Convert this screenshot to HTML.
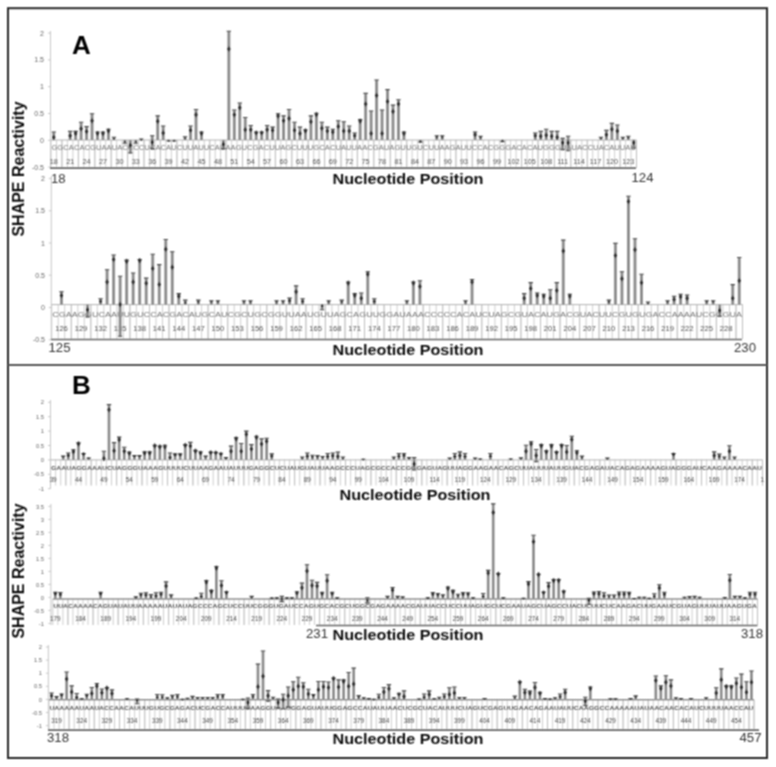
<!DOCTYPE html>
<html><head><meta charset="utf-8"><title>SHAPE Reactivity</title>
<style>
html,body{margin:0;padding:0;background:#fff;}
body{width:776px;height:767px;overflow:hidden;}
svg{display:block;font-family:"Liberation Sans",Arial,sans-serif;}
</style></head><body>
<svg width="776" height="767" viewBox="0 0 776 767">
<defs><filter id="soft" filterUnits="userSpaceOnUse" x="0" y="0" width="776" height="767"><feConvolveMatrix order="3" kernelMatrix="1 2 1 2 4 2 1 2 1" edgeMode="duplicate"/></filter></defs>
<rect x="0" y="0" width="776" height="767" fill="#fff"/>
<g filter="url(#soft)">
<g id="A1">
<path d="M50.5,31V168.0M48.0,33.1H50.5M48.0,59.9H50.5M48.0,86.7H50.5M48.0,113.5H50.5M48.0,140.3H50.5M48.0,167.1H50.5" stroke="#c2c2c2" stroke-width="0.9" fill="none"/>
<g font-size="7.0" text-anchor="end" fill="#666">
<text x="44" y="35.6">2</text>
<text x="44" y="62.4">1.5</text>
<text x="44" y="89.2">1</text>
<text x="44" y="116.0">0.5</text>
<text x="44" y="142.8">0</text>
<text x="44" y="169.6">-0.5</text>
</g>
<path d="M51.0,140V168M56.5,140V168M61.9,140V168M67.4,140V168M72.9,140V168M78.4,140V168M83.8,140V168M89.3,140V168M94.8,140V168M100.2,140V168M105.7,140V168M111.2,140V168M116.7,140V168M122.1,140V168M127.6,140V168M133.1,140V168M138.6,140V168M144.0,140V168M149.5,140V168M155.0,140V168M160.4,140V168M165.9,140V168M171.4,140V168M176.9,140V168M182.3,140V168M187.8,140V168M193.3,140V168M198.7,140V168M204.2,140V168M209.7,140V168M215.2,140V168M220.6,140V168M226.1,140V168M231.6,140V168M237.0,140V168M242.5,140V168M248.0,140V168M253.5,140V168M258.9,140V168M264.4,140V168M269.9,140V168M275.4,140V168M280.8,140V168M286.3,140V168M291.8,140V168M297.2,140V168M302.7,140V168M308.2,140V168M313.7,140V168M319.1,140V168M324.6,140V168M330.1,140V168M335.5,140V168M341.0,140V168M346.5,140V168M352.0,140V168M357.4,140V168M362.9,140V168M368.4,140V168M373.8,140V168M379.3,140V168M384.8,140V168M390.3,140V168M395.7,140V168M401.2,140V168M406.7,140V168M412.1,140V168M417.6,140V168M423.1,140V168M428.6,140V168M434.0,140V168M439.5,140V168M445.0,140V168M450.5,140V168M455.9,140V168M461.4,140V168M466.9,140V168M472.3,140V168M477.8,140V168M483.3,140V168M488.8,140V168M494.2,140V168M499.7,140V168M505.2,140V168M510.6,140V168M516.1,140V168M521.6,140V168M527.1,140V168M532.5,140V168M538.0,140V168M543.5,140V168M548.9,140V168M554.4,140V168M559.9,140V168M565.4,140V168M570.8,140V168M576.3,140V168M581.8,140V168M587.3,140V168M592.7,140V168M598.2,140V168M603.7,140V168M609.1,140V168M614.6,140V168M620.1,140V168M625.6,140V168M631.0,140V168M636.5,140V168" stroke="#c4c4c4" stroke-width="0.8" fill="none"/>
<path d="M61.9,140V168M78.4,140V168M94.8,140V168M111.2,140V168M127.6,140V168M144.0,140V168M160.4,140V168M176.9,140V168M193.3,140V168M209.7,140V168M226.1,140V168M242.5,140V168M258.9,140V168M275.4,140V168M291.8,140V168M308.2,140V168M324.6,140V168M341.0,140V168M357.4,140V168M373.8,140V168M390.3,140V168M406.7,140V168M423.1,140V168M439.5,140V168M455.9,140V168M472.3,140V168M488.8,140V168M505.2,140V168M521.6,140V168M538.0,140V168M554.4,140V168M570.8,140V168M587.3,140V168M603.7,140V168M620.1,140V168M636.5,140V168M636.5,140V168" stroke="#bdbdbd" stroke-width="0.8" fill="none"/>
<path d="M51.0,140.0H636.5" stroke="#b4b4b4" stroke-width="1" fill="none"/>
<text x="51.4" y="150.4" font-size="7.6" textLength="584.6" lengthAdjust="spacingAndGlyphs" fill="#707070">GGCACACGUAAUACCCCUCACAUCUUAUUCAUAAGUCGACUUAGCUUUGCACUAUUAACGAUAGUUGUCUUAAGAUUCCACGGGACACAUGGGUAUACCUACAUUAU</text>
<g font-size="7.2" text-anchor="middle" fill="#4a4a4a">
<text x="53.7" y="163.6">18</text>
<text x="70.2" y="163.6">21</text>
<text x="86.6" y="163.6">24</text>
<text x="103.0" y="163.6">27</text>
<text x="119.4" y="163.6">30</text>
<text x="135.8" y="163.6">33</text>
<text x="152.2" y="163.6">36</text>
<text x="168.6" y="163.6">39</text>
<text x="185.1" y="163.6">42</text>
<text x="201.5" y="163.6">45</text>
<text x="217.9" y="163.6">48</text>
<text x="234.3" y="163.6">51</text>
<text x="250.7" y="163.6">54</text>
<text x="267.1" y="163.6">57</text>
<text x="283.6" y="163.6">60</text>
<text x="300.0" y="163.6">63</text>
<text x="316.4" y="163.6">66</text>
<text x="332.8" y="163.6">69</text>
<text x="349.2" y="163.6">72</text>
<text x="365.6" y="163.6">75</text>
<text x="382.1" y="163.6">78</text>
<text x="398.5" y="163.6">81</text>
<text x="414.9" y="163.6">84</text>
<text x="431.3" y="163.6">87</text>
<text x="447.7" y="163.6">90</text>
<text x="464.1" y="163.6">93</text>
<text x="480.5" y="163.6">96</text>
<text x="497.0" y="163.6">99</text>
<text x="513.4" y="163.6">102</text>
<text x="529.8" y="163.6">105</text>
<text x="546.2" y="163.6">108</text>
<text x="562.6" y="163.6">111</text>
<text x="579.0" y="163.6">114</text>
<text x="595.5" y="163.6">117</text>
<text x="611.9" y="163.6">120</text>
<text x="628.3" y="163.6">123</text>
</g>
<path d="M50,168.2H636" stroke="#666" stroke-width="1.7" fill="none"/>
<g fill="#9c9c9c"><rect x="52.24" y="131.96" width="3.00" height="8.04"/><rect x="68.65" y="131.42" width="3.00" height="8.58"/><rect x="74.12" y="131.42" width="3.00" height="8.58"/><rect x="79.60" y="122.31" width="3.00" height="17.69"/><rect x="85.07" y="126.60" width="3.00" height="13.40"/><rect x="90.54" y="113.74" width="3.00" height="26.26"/><rect x="96.01" y="131.96" width="3.00" height="8.04"/><rect x="101.48" y="131.96" width="3.00" height="8.04"/><rect x="106.96" y="129.28" width="3.00" height="10.72"/><rect x="112.43" y="137.32" width="3.00" height="2.68"/><rect x="123.37" y="140.00" width="3.00" height="3.22"/><rect x="128.84" y="140.00" width="3.00" height="12.86"/><rect x="134.32" y="140.00" width="3.00" height="3.22"/><rect x="139.79" y="138.93" width="3.00" height="1.07"/><rect x="150.73" y="135.71" width="3.00" height="12.86"/><rect x="156.20" y="115.88" width="3.00" height="24.12"/><rect x="161.68" y="126.06" width="3.00" height="13.94"/><rect x="167.15" y="140.00" width="3.00" height="1.07"/><rect x="172.62" y="140.00" width="3.00" height="1.07"/><rect x="183.56" y="136.78" width="3.00" height="3.22"/><rect x="189.04" y="126.06" width="3.00" height="13.94"/><rect x="194.51" y="109.45" width="3.00" height="30.55"/><rect x="199.98" y="131.96" width="3.00" height="8.04"/><rect x="221.87" y="140.00" width="3.00" height="8.58"/><rect x="227.34" y="31.19" width="3.00" height="108.81"/><rect x="232.81" y="109.98" width="3.00" height="30.02"/><rect x="238.28" y="103.02" width="3.00" height="36.98"/><rect x="243.75" y="117.49" width="3.00" height="22.51"/><rect x="249.23" y="125.53" width="3.00" height="14.47"/><rect x="254.70" y="131.96" width="3.00" height="8.04"/><rect x="260.17" y="131.96" width="3.00" height="8.04"/><rect x="265.64" y="125.53" width="3.00" height="14.47"/><rect x="271.11" y="127.14" width="3.00" height="12.86"/><rect x="276.59" y="113.74" width="3.00" height="26.26"/><rect x="282.06" y="115.88" width="3.00" height="24.12"/><rect x="287.53" y="109.45" width="3.00" height="30.55"/><rect x="293.00" y="122.31" width="3.00" height="17.69"/><rect x="298.47" y="127.14" width="3.00" height="12.86"/><rect x="303.95" y="129.82" width="3.00" height="10.18"/><rect x="309.42" y="115.88" width="3.00" height="24.12"/><rect x="314.89" y="113.20" width="3.00" height="26.80"/><rect x="320.36" y="122.31" width="3.00" height="17.69"/><rect x="325.83" y="127.14" width="3.00" height="12.86"/><rect x="331.31" y="129.28" width="3.00" height="10.72"/><rect x="336.78" y="120.70" width="3.00" height="19.30"/><rect x="342.25" y="121.78" width="3.00" height="18.22"/><rect x="347.72" y="126.06" width="3.00" height="13.94"/><rect x="353.19" y="133.03" width="3.00" height="6.97"/><rect x="358.67" y="119.63" width="3.00" height="20.37"/><rect x="364.14" y="93.37" width="3.00" height="46.63"/><rect x="369.61" y="111.06" width="3.00" height="28.94"/><rect x="375.08" y="79.97" width="3.00" height="60.03"/><rect x="380.55" y="109.98" width="3.00" height="30.02"/><rect x="386.03" y="89.62" width="3.00" height="50.38"/><rect x="391.50" y="105.16" width="3.00" height="34.84"/><rect x="396.97" y="99.80" width="3.00" height="40.20"/><rect x="402.44" y="131.96" width="3.00" height="8.04"/><rect x="418.86" y="140.00" width="3.00" height="2.14"/><rect x="435.27" y="135.71" width="3.00" height="4.29"/><rect x="440.75" y="135.71" width="3.00" height="4.29"/><rect x="473.58" y="131.96" width="3.00" height="8.04"/><rect x="479.05" y="136.25" width="3.00" height="3.75"/><rect x="500.94" y="140.00" width="3.00" height="1.61"/><rect x="533.77" y="133.03" width="3.00" height="6.97"/><rect x="539.24" y="131.42" width="3.00" height="8.58"/><rect x="544.71" y="129.28" width="3.00" height="10.72"/><rect x="550.18" y="131.42" width="3.00" height="8.58"/><rect x="555.66" y="131.42" width="3.00" height="8.58"/><rect x="561.13" y="138.39" width="3.00" height="11.26"/><rect x="566.60" y="136.25" width="3.00" height="14.47"/><rect x="599.43" y="137.32" width="3.00" height="2.68"/><rect x="604.90" y="130.35" width="3.00" height="9.65"/><rect x="610.38" y="123.38" width="3.00" height="16.62"/><rect x="615.85" y="124.99" width="3.00" height="15.01"/><rect x="621.32" y="137.32" width="3.00" height="2.68"/><rect x="626.79" y="136.25" width="3.00" height="3.75"/><rect x="632.26" y="140.00" width="3.00" height="8.04"/></g>
<path d="M53.74,131.96V140.00M70.15,131.42V140.00M75.62,131.42V140.00M81.10,122.31V140.00M86.57,126.60V140.00M92.04,113.74V140.00M97.51,131.96V140.00M102.98,131.96V140.00M108.46,129.28V140.00M113.93,137.32V140.00M124.87,140.00V143.22M130.34,140.00V152.86M135.82,140.00V143.22M141.29,138.93V140.00M152.23,135.71V148.58M157.70,115.88V140.00M163.18,126.06V140.00M168.65,140.00V141.07M174.12,140.00V141.07M185.06,136.78V140.00M190.54,126.06V140.00M196.01,109.45V140.00M201.48,131.96V140.00M223.37,140.00V148.58M228.84,31.19V140.00M234.31,109.98V140.00M239.78,103.02V140.00M245.25,117.49V140.00M250.73,125.53V140.00M256.20,131.96V140.00M261.67,131.96V140.00M267.14,125.53V140.00M272.61,127.14V140.00M278.09,113.74V140.00M283.56,115.88V140.00M289.03,109.45V140.00M294.50,122.31V140.00M299.97,127.14V140.00M305.45,129.82V140.00M310.92,115.88V140.00M316.39,113.20V140.00M321.86,122.31V140.00M327.33,127.14V140.00M332.81,129.28V140.00M338.28,120.70V140.00M343.75,121.78V140.00M349.22,126.06V140.00M354.69,133.03V140.00M360.17,119.63V140.00M365.64,93.37V140.00M371.11,111.06V140.00M376.58,79.97V140.00M382.05,109.98V140.00M387.53,89.62V140.00M393.00,105.16V140.00M398.47,99.80V140.00M403.94,131.96V140.00M420.36,140.00V142.14M436.77,135.71V140.00M442.25,135.71V140.00M475.08,131.96V140.00M480.55,136.25V140.00M502.44,140.00V141.61M535.27,133.03V140.00M540.74,131.42V140.00M546.21,129.28V140.00M551.68,131.42V140.00M557.16,131.42V140.00M562.63,138.39V149.65M568.10,136.25V150.72M600.93,137.32V140.00M606.40,130.35V140.00M611.88,123.38V140.00M617.35,124.99V140.00M622.82,137.32V140.00M628.29,136.25V140.00M633.76,140.00V148.04" stroke="#707070" stroke-width="0.7" fill="none"/>
<path d="M51.54,131.96H55.94M67.95,131.42H72.35M73.42,131.42H77.82M78.90,122.31H83.30M84.37,126.60H88.77M89.84,113.74H94.24M95.31,131.96H99.71M100.78,131.96H105.18M106.26,129.28H110.66M111.73,137.32H116.13M122.67,143.22H127.07M128.14,152.86H132.54M133.62,143.22H138.02M139.09,138.93H143.49M150.03,135.71H154.43M150.03,148.58H154.43M155.50,115.88H159.90M160.98,126.06H165.38M166.45,141.07H170.85M171.92,141.07H176.32M182.86,136.78H187.26M188.34,126.06H192.74M193.81,109.45H198.21M199.28,131.96H203.68M221.17,148.58H225.57M226.64,31.19H231.04M232.11,109.98H236.51M237.58,103.02H241.98M243.05,117.49H247.45M248.53,125.53H252.93M254.00,131.96H258.40M259.47,131.96H263.87M264.94,125.53H269.34M270.41,127.14H274.81M275.89,113.74H280.29M281.36,115.88H285.76M286.83,109.45H291.23M292.30,122.31H296.70M297.77,127.14H302.17M303.25,129.82H307.65M308.72,115.88H313.12M314.19,113.20H318.59M319.66,122.31H324.06M325.13,127.14H329.53M330.61,129.28H335.01M336.08,120.70H340.48M341.55,121.78H345.95M347.02,126.06H351.42M352.49,133.03H356.89M357.97,119.63H362.37M363.44,93.37H367.84M368.91,111.06H373.31M374.38,79.97H378.78M379.85,109.98H384.25M385.33,89.62H389.73M390.80,105.16H395.20M396.27,99.80H400.67M401.74,131.96H406.14M418.16,142.14H422.56M434.57,135.71H438.97M440.05,135.71H444.45M472.88,131.96H477.28M478.35,136.25H482.75M500.24,141.61H504.64M533.07,133.03H537.47M538.54,131.42H542.94M544.01,129.28H548.41M549.48,131.42H553.88M554.96,131.42H559.36M560.43,138.39H564.83M560.43,149.65H564.83M565.90,136.25H570.30M565.90,150.72H570.30M598.73,137.32H603.13M604.20,130.35H608.60M609.68,123.38H614.08M615.15,124.99H619.55M620.62,137.32H625.02M626.09,136.25H630.49M631.56,148.04H635.96" stroke="#444" stroke-width="1.1" fill="none"/>
<path d="M51.94,137.32L53.74,134.51L55.54,137.32L53.74,140.13ZM68.35,135.71L70.15,132.71L71.95,135.71L70.15,138.71ZM73.82,133.57L75.62,130.57L77.42,133.57L75.62,136.57ZM79.30,128.74L81.10,125.74L82.90,128.74L81.10,131.74ZM84.77,131.42L86.57,128.42L88.37,131.42L86.57,134.42ZM90.24,120.70L92.04,117.70L93.84,120.70L92.04,123.70ZM95.71,133.57L97.51,130.75L99.31,133.57L97.51,136.38ZM101.18,133.57L102.98,130.75L104.78,133.57L102.98,136.38ZM106.66,130.89L108.46,127.89L110.26,130.89L108.46,133.89ZM112.73,138.93L113.93,137.83L115.13,138.93L113.93,140.03ZM123.67,141.61L124.87,140.48L126.07,141.61L124.87,142.73ZM128.54,145.36L130.34,142.36L132.14,145.36L130.34,148.36ZM134.62,141.61L135.82,140.48L137.02,141.61L135.82,142.73ZM140.09,140.00L141.29,138.90L142.49,140.00L141.29,141.10ZM150.43,142.14L152.23,139.14L154.03,142.14L152.23,145.14ZM155.90,121.24L157.70,118.24L159.50,121.24L157.70,124.24ZM161.38,133.03L163.18,130.03L164.98,133.03L163.18,136.03ZM167.45,140.54L168.65,139.44L169.85,140.54L168.65,141.64ZM172.92,140.54L174.12,139.44L175.32,140.54L174.12,141.64ZM183.86,138.39L185.06,137.27L186.26,138.39L185.06,139.52ZM188.74,130.35L190.54,127.35L192.34,130.35L190.54,133.35ZM194.21,114.81L196.01,111.81L197.81,114.81L196.01,117.81ZM199.68,133.57L201.48,130.75L203.28,133.57L201.48,136.38ZM221.57,144.29L223.37,141.29L225.17,144.29L223.37,147.29ZM227.04,48.88L228.84,45.88L230.64,48.88L228.84,51.88ZM232.51,114.81L234.31,111.81L236.11,114.81L234.31,117.81ZM237.98,107.84L239.78,104.84L241.58,107.84L239.78,110.84ZM243.45,129.82L245.25,126.82L247.05,129.82L245.25,132.82ZM248.93,129.82L250.73,126.82L252.53,129.82L250.73,132.82ZM254.40,133.03L256.20,130.22L258.00,133.03L256.20,135.85ZM259.87,133.03L261.67,130.22L263.47,133.03L261.67,135.85ZM265.34,129.82L267.14,126.82L268.94,129.82L267.14,132.82ZM270.81,130.35L272.61,127.35L274.41,130.35L272.61,133.35ZM276.29,115.88L278.09,112.88L279.89,115.88L278.09,118.88ZM281.76,120.70L283.56,117.70L285.36,120.70L283.56,123.70ZM287.23,118.56L289.03,115.56L290.83,118.56L289.03,121.56ZM292.70,130.35L294.50,127.35L296.30,130.35L294.50,133.35ZM298.17,133.57L299.97,130.57L301.77,133.57L299.97,136.57ZM303.65,130.89L305.45,127.89L307.25,130.89L305.45,133.89ZM309.12,121.78L310.92,118.78L312.72,121.78L310.92,124.78ZM314.59,114.81L316.39,111.81L318.19,114.81L316.39,117.81ZM320.06,128.21L321.86,125.21L323.66,128.21L321.86,131.21ZM325.53,130.89L327.33,127.89L329.13,130.89L327.33,133.89ZM331.01,131.96L332.81,128.96L334.61,131.96L332.81,134.96ZM336.48,126.60L338.28,123.60L340.08,126.60L338.28,129.60ZM341.95,130.89L343.75,127.89L345.55,130.89L343.75,133.89ZM347.42,130.89L349.22,127.89L351.02,130.89L349.22,133.89ZM352.89,135.71L354.69,133.27L356.49,135.71L354.69,138.15ZM358.37,121.24L360.17,118.24L361.97,121.24L360.17,124.24ZM363.84,104.09L365.64,101.09L367.44,104.09L365.64,107.09ZM369.31,133.57L371.11,130.57L372.91,133.57L371.11,136.57ZM374.78,95.51L376.58,92.51L378.38,95.51L376.58,98.51ZM380.25,133.57L382.05,130.57L383.85,133.57L382.05,136.57ZM385.73,101.41L387.53,98.41L389.33,101.41L387.53,104.41ZM391.20,111.59L393.00,108.59L394.80,111.59L393.00,114.59ZM396.67,104.09L398.47,101.09L400.27,104.09L398.47,107.09ZM402.14,133.57L403.94,130.75L405.74,133.57L403.94,136.38ZM419.16,141.07L420.36,139.97L421.56,141.07L420.36,142.17ZM435.49,137.32L436.77,135.82L438.06,137.32L436.77,138.82ZM440.96,137.32L442.25,135.82L443.53,137.32L442.25,138.82ZM473.28,134.64L475.08,131.83L476.88,134.64L475.08,137.45ZM479.35,137.32L480.55,136.01L481.75,137.32L480.55,138.63ZM501.24,140.54L502.44,139.44L503.64,140.54L502.44,141.64ZM533.47,135.71L535.27,133.27L537.07,135.71L535.27,138.15ZM538.94,136.25L540.74,133.25L542.54,136.25L540.74,139.25ZM544.41,135.18L546.21,132.18L548.01,135.18L546.21,138.18ZM549.88,136.25L551.68,133.25L553.48,136.25L551.68,139.25ZM555.36,137.32L557.16,134.32L558.96,137.32L557.16,140.32ZM560.83,142.68L562.63,139.68L564.43,142.68L562.63,145.68ZM566.30,142.68L568.10,139.68L569.90,142.68L568.10,145.68ZM599.73,138.39L600.93,137.29L602.13,138.39L600.93,139.49ZM604.60,134.64L606.40,131.64L608.20,134.64L606.40,137.64ZM610.08,129.28L611.88,126.28L613.68,129.28L611.88,132.28ZM615.55,130.89L617.35,127.89L619.15,130.89L617.35,133.89ZM621.62,138.39L622.82,137.29L624.02,138.39L622.82,139.49ZM627.09,137.86L628.29,136.54L629.49,137.86L628.29,139.17ZM631.96,142.68L633.76,139.87L635.56,142.68L633.76,145.49Z" fill="#2e2e2e"/>
</g>
<g id="A2">
<path d="M51.3,176V339.8M48.8,178.5H51.3M48.8,210.8H51.3M48.8,243.0H51.3M48.8,275.2H51.3M48.8,307.5H51.3M48.8,339.8H51.3" stroke="#c2c2c2" stroke-width="0.9" fill="none"/>
<g font-size="7.0" text-anchor="end" fill="#666">
<text x="45" y="181.0">2</text>
<text x="45" y="213.3">1.5</text>
<text x="45" y="245.5">1</text>
<text x="45" y="277.8">0.5</text>
<text x="45" y="310.0">0</text>
<text x="45" y="342.3">-0.5</text>
</g>
<path d="M51.7,304.6V339M58.2,304.6V339M64.7,304.6V339M71.3,304.6V339M77.8,304.6V339M84.3,304.6V339M90.8,304.6V339M97.3,304.6V339M103.8,304.6V339M110.4,304.6V339M116.9,304.6V339M123.4,304.6V339M129.9,304.6V339M136.4,304.6V339M142.9,304.6V339M149.5,304.6V339M156.0,304.6V339M162.5,304.6V339M169.0,304.6V339M175.5,304.6V339M182.0,304.6V339M188.6,304.6V339M195.1,304.6V339M201.6,304.6V339M208.1,304.6V339M214.6,304.6V339M221.1,304.6V339M227.7,304.6V339M234.2,304.6V339M240.7,304.6V339M247.2,304.6V339M253.7,304.6V339M260.2,304.6V339M266.8,304.6V339M273.3,304.6V339M279.8,304.6V339M286.3,304.6V339M292.8,304.6V339M299.3,304.6V339M305.9,304.6V339M312.4,304.6V339M318.9,304.6V339M325.4,304.6V339M331.9,304.6V339M338.4,304.6V339M345.0,304.6V339M351.5,304.6V339M358.0,304.6V339M364.5,304.6V339M371.0,304.6V339M377.5,304.6V339M384.1,304.6V339M390.6,304.6V339M397.1,304.6V339M403.6,304.6V339M410.1,304.6V339M416.7,304.6V339M423.2,304.6V339M429.7,304.6V339M436.2,304.6V339M442.7,304.6V339M449.2,304.6V339M455.8,304.6V339M462.3,304.6V339M468.8,304.6V339M475.3,304.6V339M481.8,304.6V339M488.3,304.6V339M494.9,304.6V339M501.4,304.6V339M507.9,304.6V339M514.4,304.6V339M520.9,304.6V339M527.4,304.6V339M534.0,304.6V339M540.5,304.6V339M547.0,304.6V339M553.5,304.6V339M560.0,304.6V339M566.5,304.6V339M573.1,304.6V339M579.6,304.6V339M586.1,304.6V339M592.6,304.6V339M599.1,304.6V339M605.6,304.6V339M612.2,304.6V339M618.7,304.6V339M625.2,304.6V339M631.7,304.6V339M638.2,304.6V339M644.7,304.6V339M651.3,304.6V339M657.8,304.6V339M664.3,304.6V339M670.8,304.6V339M677.3,304.6V339M683.8,304.6V339M690.4,304.6V339M696.9,304.6V339M703.4,304.6V339M709.9,304.6V339M716.4,304.6V339M722.9,304.6V339M729.5,304.6V339M736.0,304.6V339M742.5,304.6V339" stroke="#c4c4c4" stroke-width="0.8" fill="none"/>
<path d="M71.3,304.6V339M90.8,304.6V339M110.4,304.6V339M129.9,304.6V339M149.5,304.6V339M169.0,304.6V339M188.6,304.6V339M208.1,304.6V339M227.7,304.6V339M247.2,304.6V339M266.8,304.6V339M286.3,304.6V339M305.9,304.6V339M325.4,304.6V339M345.0,304.6V339M364.5,304.6V339M384.1,304.6V339M403.6,304.6V339M423.2,304.6V339M442.7,304.6V339M462.3,304.6V339M481.8,304.6V339M501.4,304.6V339M520.9,304.6V339M540.5,304.6V339M560.0,304.6V339M579.6,304.6V339M599.1,304.6V339M618.7,304.6V339M638.2,304.6V339M657.8,304.6V339M677.3,304.6V339M696.9,304.6V339M716.4,304.6V339M736.0,304.6V339M742.5,304.6V339" stroke="#bdbdbd" stroke-width="0.8" fill="none"/>
<path d="M51.7,304.6H742.5" stroke="#b4b4b4" stroke-width="1" fill="none"/>
<text x="52.2" y="316.5" font-size="8.0" textLength="689.8" lengthAdjust="spacingAndGlyphs" fill="#707070">CGAAGGUCAAUUGUCCACGACAUGCAUCGCUGCGGUUAAUGUUAGCAGUUGGAUAAACCCCCACAUCUAGCGUACAUGACGUACUUCGUGUGACCAAAAUCGCGUA</text>
<g font-size="7.6" text-anchor="middle" fill="#4a4a4a">
<text x="61.5" y="331.3">126</text>
<text x="81.0" y="331.3">129</text>
<text x="100.6" y="331.3">132</text>
<text x="120.1" y="331.3">135</text>
<text x="139.7" y="331.3">138</text>
<text x="159.2" y="331.3">141</text>
<text x="178.8" y="331.3">144</text>
<text x="198.3" y="331.3">147</text>
<text x="217.9" y="331.3">150</text>
<text x="237.4" y="331.3">153</text>
<text x="257.0" y="331.3">156</text>
<text x="276.5" y="331.3">159</text>
<text x="296.1" y="331.3">162</text>
<text x="315.6" y="331.3">165</text>
<text x="335.2" y="331.3">168</text>
<text x="354.7" y="331.3">171</text>
<text x="374.3" y="331.3">174</text>
<text x="393.8" y="331.3">177</text>
<text x="413.4" y="331.3">180</text>
<text x="432.9" y="331.3">183</text>
<text x="452.5" y="331.3">186</text>
<text x="472.0" y="331.3">189</text>
<text x="491.6" y="331.3">192</text>
<text x="511.1" y="331.3">195</text>
<text x="530.7" y="331.3">198</text>
<text x="550.2" y="331.3">201</text>
<text x="569.8" y="331.3">204</text>
<text x="589.4" y="331.3">207</text>
<text x="608.9" y="331.3">210</text>
<text x="628.5" y="331.3">213</text>
<text x="648.0" y="331.3">216</text>
<text x="667.6" y="331.3">219</text>
<text x="687.1" y="331.3">222</text>
<text x="706.7" y="331.3">225</text>
<text x="726.2" y="331.3">228</text>
</g>
<path d="M51,339.5H742" stroke="#666" stroke-width="1.7" fill="none"/>
<g fill="#9c9c9c"><rect x="59.98" y="291.70" width="3.00" height="12.90"/><rect x="86.04" y="304.60" width="3.00" height="12.25"/><rect x="99.08" y="298.80" width="3.00" height="5.81"/><rect x="105.59" y="269.77" width="3.00" height="34.83"/><rect x="112.11" y="254.94" width="3.00" height="49.66"/><rect x="118.63" y="276.22" width="3.00" height="59.99"/><rect x="125.15" y="260.10" width="3.00" height="44.50"/><rect x="131.66" y="273.00" width="3.00" height="31.61"/><rect x="138.18" y="259.45" width="3.00" height="45.15"/><rect x="144.70" y="278.16" width="3.00" height="26.44"/><rect x="151.21" y="254.29" width="3.00" height="50.31"/><rect x="157.73" y="264.61" width="3.00" height="39.99"/><rect x="164.25" y="239.46" width="3.00" height="65.14"/><rect x="170.76" y="251.71" width="3.00" height="52.89"/><rect x="177.28" y="293.64" width="3.00" height="10.96"/><rect x="183.80" y="300.09" width="3.00" height="4.51"/><rect x="196.83" y="300.09" width="3.00" height="4.51"/><rect x="209.87" y="300.73" width="3.00" height="3.87"/><rect x="216.38" y="300.73" width="3.00" height="3.87"/><rect x="242.45" y="300.73" width="3.00" height="3.87"/><rect x="248.97" y="300.73" width="3.00" height="3.87"/><rect x="275.04" y="300.73" width="3.00" height="3.87"/><rect x="281.55" y="300.73" width="3.00" height="3.87"/><rect x="288.07" y="298.15" width="3.00" height="6.45"/><rect x="294.59" y="285.90" width="3.00" height="18.70"/><rect x="301.10" y="298.80" width="3.00" height="5.81"/><rect x="320.65" y="304.60" width="3.00" height="5.16"/><rect x="327.17" y="300.73" width="3.00" height="3.87"/><rect x="340.21" y="300.09" width="3.00" height="4.51"/><rect x="346.72" y="282.03" width="3.00" height="22.57"/><rect x="353.24" y="293.64" width="3.00" height="10.96"/><rect x="359.76" y="292.99" width="3.00" height="11.61"/><rect x="366.27" y="271.71" width="3.00" height="32.89"/><rect x="372.79" y="298.80" width="3.00" height="5.81"/><rect x="405.38" y="300.73" width="3.00" height="3.87"/><rect x="411.89" y="282.03" width="3.00" height="22.57"/><rect x="418.41" y="280.74" width="3.00" height="23.87"/><rect x="464.03" y="300.73" width="3.00" height="3.87"/><rect x="470.55" y="279.45" width="3.00" height="25.15"/><rect x="522.68" y="293.64" width="3.00" height="10.96"/><rect x="529.20" y="282.67" width="3.00" height="21.93"/><rect x="535.72" y="292.99" width="3.00" height="11.61"/><rect x="542.23" y="294.28" width="3.00" height="10.32"/><rect x="548.75" y="289.77" width="3.00" height="14.83"/><rect x="555.27" y="282.67" width="3.00" height="21.93"/><rect x="561.78" y="240.10" width="3.00" height="64.50"/><rect x="568.30" y="294.28" width="3.00" height="10.32"/><rect x="607.40" y="300.09" width="3.00" height="4.51"/><rect x="613.92" y="243.33" width="3.00" height="61.28"/><rect x="620.44" y="271.71" width="3.00" height="32.89"/><rect x="626.95" y="196.24" width="3.00" height="108.36"/><rect x="633.47" y="238.81" width="3.00" height="65.79"/><rect x="639.99" y="274.29" width="3.00" height="30.31"/><rect x="646.50" y="302.02" width="3.00" height="2.58"/><rect x="666.05" y="300.73" width="3.00" height="3.87"/><rect x="672.57" y="296.22" width="3.00" height="8.38"/><rect x="679.09" y="294.28" width="3.00" height="10.32"/><rect x="685.61" y="294.93" width="3.00" height="9.68"/><rect x="705.16" y="300.73" width="3.00" height="3.87"/><rect x="711.67" y="300.73" width="3.00" height="3.87"/><rect x="718.19" y="304.60" width="3.00" height="11.61"/><rect x="731.22" y="284.61" width="3.00" height="20.00"/><rect x="737.74" y="257.52" width="3.00" height="47.08"/></g>
<path d="M61.48,291.70V304.60M87.54,304.60V316.86M100.58,298.80V304.60M107.09,269.77V304.60M113.61,254.94V304.60M120.13,276.22V336.21M126.65,260.10V304.60M133.16,273.00V304.60M139.68,259.45V304.60M146.20,278.16V304.60M152.71,254.29V304.60M159.23,264.61V304.60M165.75,239.46V304.60M172.26,251.71V304.60M178.78,293.64V304.60M185.30,300.09V304.60M198.33,300.09V304.60M211.37,300.73V304.60M217.88,300.73V304.60M243.95,300.73V304.60M250.47,300.73V304.60M276.54,300.73V304.60M283.05,300.73V304.60M289.57,298.15V304.60M296.09,285.90V304.60M302.60,298.80V304.60M322.15,304.60V309.76M328.67,300.73V304.60M341.71,300.09V304.60M348.22,282.03V304.60M354.74,293.64V304.60M361.26,292.99V304.60M367.77,271.71V304.60M374.29,298.80V304.60M406.88,300.73V304.60M413.39,282.03V304.60M419.91,280.74V304.60M465.53,300.73V304.60M472.05,279.45V304.60M524.18,293.64V304.60M530.70,282.67V304.60M537.22,292.99V304.60M543.73,294.28V304.60M550.25,289.77V304.60M556.77,282.67V304.60M563.28,240.10V304.60M569.80,294.28V304.60M608.90,300.09V304.60M615.42,243.33V304.60M621.94,271.71V304.60M628.45,196.24V304.60M634.97,238.81V304.60M641.49,274.29V304.60M648.00,302.02V304.60M667.55,300.73V304.60M674.07,296.22V304.60M680.59,294.28V304.60M687.11,294.93V304.60M706.66,300.73V304.60M713.17,300.73V304.60M719.69,304.60V316.21M732.72,284.61V304.60M739.24,257.52V304.60" stroke="#707070" stroke-width="0.7" fill="none"/>
<path d="M59.28,291.70H63.68M85.34,316.86H89.74M98.38,298.80H102.78M104.89,269.77H109.29M111.41,254.94H115.81M117.93,276.22H122.33M117.93,336.21H122.33M124.45,260.10H128.85M130.96,273.00H135.36M137.48,259.45H141.88M144.00,278.16H148.40M150.51,254.29H154.91M157.03,264.61H161.43M163.55,239.46H167.95M170.06,251.71H174.46M176.58,293.64H180.98M183.10,300.09H187.50M196.13,300.09H200.53M209.17,300.73H213.57M215.68,300.73H220.08M241.75,300.73H246.15M248.27,300.73H252.67M274.34,300.73H278.74M280.85,300.73H285.25M287.37,298.15H291.77M293.89,285.90H298.29M300.40,298.80H304.80M319.95,309.76H324.35M326.47,300.73H330.87M339.51,300.09H343.91M346.02,282.03H350.42M352.54,293.64H356.94M359.06,292.99H363.46M365.57,271.71H369.97M372.09,298.80H376.49M404.68,300.73H409.08M411.19,282.03H415.59M417.71,280.74H422.11M463.33,300.73H467.73M469.85,279.45H474.25M521.98,293.64H526.38M528.50,282.67H532.90M535.02,292.99H539.42M541.53,294.28H545.93M548.05,289.77H552.45M554.57,282.67H558.97M561.08,240.10H565.48M567.60,294.28H572.00M606.70,300.09H611.10M613.22,243.33H617.62M619.74,271.71H624.14M626.25,196.24H630.65M632.77,238.81H637.17M639.29,274.29H643.69M645.80,302.02H650.20M665.35,300.73H669.75M671.87,296.22H676.27M678.39,294.28H682.79M684.91,294.93H689.31M704.46,300.73H708.86M710.97,300.73H715.37M717.49,316.21H721.89M730.52,284.61H734.92M737.04,257.52H741.44" stroke="#444" stroke-width="1.1" fill="none"/>
<path d="M59.68,295.57L61.48,292.57L63.28,295.57L61.48,298.57ZM85.74,309.76L87.54,306.76L89.34,309.76L87.54,312.76ZM98.84,301.38L100.58,299.34L102.32,301.38L100.58,303.41ZM105.29,282.03L107.09,279.03L108.89,282.03L107.09,285.03ZM111.81,259.45L113.61,256.45L115.41,259.45L113.61,262.45ZM118.33,304.60L120.13,301.60L121.93,304.60L120.13,307.60ZM124.85,261.38L126.65,258.38L128.45,261.38L126.65,264.38ZM131.36,282.03L133.16,279.03L134.96,282.03L133.16,285.03ZM137.88,260.74L139.68,257.74L141.48,260.74L139.68,263.74ZM144.40,283.31L146.20,280.31L148.00,283.31L146.20,286.31ZM150.91,268.48L152.71,265.48L154.51,268.48L152.71,271.48ZM157.43,284.61L159.23,281.61L161.03,284.61L159.23,287.61ZM163.95,249.13L165.75,246.13L167.55,249.13L165.75,252.13ZM170.46,267.19L172.26,264.19L174.06,267.19L172.26,270.19ZM176.98,296.22L178.78,293.22L180.58,296.22L178.78,299.22ZM183.94,302.67L185.30,301.08L186.65,302.67L185.30,304.25ZM196.98,302.02L198.33,300.44L199.69,302.02L198.33,303.60ZM210.17,302.02L211.37,300.67L212.57,302.02L211.37,303.37ZM216.68,302.02L217.88,300.67L219.08,302.02L217.88,303.37ZM242.75,302.02L243.95,300.67L245.15,302.02L243.95,303.37ZM249.27,302.02L250.47,300.67L251.67,302.02L250.47,303.37ZM275.34,302.02L276.54,300.67L277.74,302.02L276.54,303.37ZM281.85,302.02L283.05,300.67L284.25,302.02L283.05,303.37ZM287.77,300.73L289.57,298.47L291.37,300.73L289.57,302.99ZM294.29,291.70L296.09,288.70L297.89,291.70L296.09,294.70ZM300.86,301.38L302.60,299.34L304.35,301.38L302.60,303.41ZM320.61,305.89L322.15,304.08L323.70,305.89L322.15,307.70ZM327.47,302.02L328.67,300.67L329.87,302.02L328.67,303.37ZM340.35,302.02L341.71,300.44L343.06,302.02L341.71,303.60ZM346.42,283.31L348.22,280.31L350.02,283.31L348.22,286.31ZM352.94,295.57L354.74,292.57L356.54,295.57L354.74,298.57ZM359.46,298.15L361.26,295.15L363.06,298.15L361.26,301.15ZM365.97,274.29L367.77,271.29L369.57,274.29L367.77,277.29ZM372.55,301.38L374.29,299.34L376.03,301.38L374.29,303.41ZM405.68,302.02L406.88,300.67L408.08,302.02L406.88,303.37ZM411.59,283.31L413.39,280.31L415.19,283.31L413.39,286.31ZM418.11,286.54L419.91,283.54L421.71,286.54L419.91,289.54ZM464.33,302.02L465.53,300.67L466.73,302.02L465.53,303.37ZM470.25,282.03L472.05,279.03L473.85,282.03L472.05,285.03ZM522.38,298.15L524.18,295.15L525.98,298.15L524.18,301.15ZM528.90,288.48L530.70,285.48L532.50,288.48L530.70,291.48ZM535.42,295.57L537.22,292.57L539.02,295.57L537.22,298.57ZM541.93,296.22L543.73,293.22L545.53,296.22L543.73,299.22ZM548.45,298.15L550.25,295.15L552.05,298.15L550.25,301.15ZM554.97,290.41L556.77,287.41L558.57,290.41L556.77,293.41ZM561.48,251.07L563.28,248.07L565.08,251.07L563.28,254.07ZM568.00,296.22L569.80,293.22L571.60,296.22L569.80,299.22ZM607.55,302.02L608.90,300.44L610.26,302.02L608.90,303.60ZM613.62,255.58L615.42,252.58L617.22,255.58L615.42,258.58ZM620.14,278.80L621.94,275.80L623.74,278.80L621.94,281.80ZM626.65,201.40L628.45,198.40L630.25,201.40L628.45,204.40ZM633.17,249.78L634.97,246.78L636.77,249.78L634.97,252.78ZM639.69,282.67L641.49,279.67L643.29,282.67L641.49,285.67ZM646.80,303.31L648.00,302.21L649.20,303.31L648.00,304.41ZM666.35,302.02L667.55,300.67L668.75,302.02L667.55,303.37ZM672.27,299.44L674.07,296.51L675.87,299.44L674.07,302.37ZM678.79,296.86L680.59,293.86L682.39,296.86L680.59,299.86ZM685.31,298.15L687.11,295.15L688.91,298.15L687.11,301.15ZM705.46,302.02L706.66,300.67L707.86,302.02L706.66,303.37ZM711.97,302.02L713.17,300.67L714.37,302.02L713.17,303.37ZM717.89,310.41L719.69,307.41L721.49,310.41L719.69,313.41ZM730.92,298.15L732.72,295.15L734.52,298.15L732.72,301.15ZM737.44,280.74L739.24,277.74L741.04,280.74L739.24,283.74Z" fill="#2e2e2e"/>
</g>
<g id="B1">
<path d="M50.5,400V488.7M48.0,402.3H50.5M48.0,416.7H50.5M48.0,431.1H50.5M48.0,445.5H50.5M48.0,459.9H50.5M48.0,474.3H50.5M48.0,488.7H50.5" stroke="#c2c2c2" stroke-width="0.9" fill="none"/>
<g font-size="5.8" text-anchor="end" fill="#666">
<text x="44" y="404.4">2</text>
<text x="44" y="418.8">1.5</text>
<text x="44" y="433.2">1</text>
<text x="44" y="447.6">0.5</text>
<text x="44" y="462.0">0</text>
<text x="44" y="476.4">-0.5</text>
<text x="44" y="490.8">-1</text>
</g>
<path d="M50.5,459.9V485.5M55.6,459.9V485.5M60.7,459.9V485.5M65.8,459.9V485.5M70.8,459.9V485.5M75.9,459.9V485.5M81.0,459.9V485.5M86.1,459.9V485.5M91.2,459.9V485.5M96.3,459.9V485.5M101.4,459.9V485.5M106.4,459.9V485.5M111.5,459.9V485.5M116.6,459.9V485.5M121.7,459.9V485.5M126.8,459.9V485.5M131.9,459.9V485.5M137.0,459.9V485.5M142.0,459.9V485.5M147.1,459.9V485.5M152.2,459.9V485.5M157.3,459.9V485.5M162.4,459.9V485.5M167.5,459.9V485.5M172.6,459.9V485.5M177.6,459.9V485.5M182.7,459.9V485.5M187.8,459.9V485.5M192.9,459.9V485.5M198.0,459.9V485.5M203.1,459.9V485.5M208.2,459.9V485.5M213.2,459.9V485.5M218.3,459.9V485.5M223.4,459.9V485.5M228.5,459.9V485.5M233.6,459.9V485.5M238.7,459.9V485.5M243.8,459.9V485.5M248.8,459.9V485.5M253.9,459.9V485.5M259.0,459.9V485.5M264.1,459.9V485.5M269.2,459.9V485.5M274.3,459.9V485.5M279.4,459.9V485.5M284.4,459.9V485.5M289.5,459.9V485.5M294.6,459.9V485.5M299.7,459.9V485.5M304.8,459.9V485.5M309.9,459.9V485.5M315.0,459.9V485.5M320.0,459.9V485.5M325.1,459.9V485.5M330.2,459.9V485.5M335.3,459.9V485.5M340.4,459.9V485.5M345.5,459.9V485.5M350.6,459.9V485.5M355.6,459.9V485.5M360.7,459.9V485.5M365.8,459.9V485.5M370.9,459.9V485.5M376.0,459.9V485.5M381.1,459.9V485.5M386.2,459.9V485.5M391.2,459.9V485.5M396.3,459.9V485.5M401.4,459.9V485.5M406.5,459.9V485.5M411.6,459.9V485.5M416.7,459.9V485.5M421.8,459.9V485.5M426.8,459.9V485.5M431.9,459.9V485.5M437.0,459.9V485.5M442.1,459.9V485.5M447.2,459.9V485.5M452.3,459.9V485.5M457.4,459.9V485.5M462.4,459.9V485.5M467.5,459.9V485.5M472.6,459.9V485.5M477.7,459.9V485.5M482.8,459.9V485.5M487.9,459.9V485.5M493.0,459.9V485.5M498.0,459.9V485.5M503.1,459.9V485.5M508.2,459.9V485.5M513.3,459.9V485.5M518.4,459.9V485.5M523.5,459.9V485.5M528.6,459.9V485.5M533.6,459.9V485.5M538.7,459.9V485.5M543.8,459.9V485.5M548.9,459.9V485.5M554.0,459.9V485.5M559.1,459.9V485.5M564.2,459.9V485.5M569.2,459.9V485.5M574.3,459.9V485.5M579.4,459.9V485.5M584.5,459.9V485.5M589.6,459.9V485.5M594.7,459.9V485.5M599.8,459.9V485.5M604.8,459.9V485.5M609.9,459.9V485.5M615.0,459.9V485.5M620.1,459.9V485.5M625.2,459.9V485.5M630.3,459.9V485.5M635.4,459.9V485.5M640.4,459.9V485.5M645.5,459.9V485.5M650.6,459.9V485.5M655.7,459.9V485.5M660.8,459.9V485.5M665.9,459.9V485.5M671.0,459.9V485.5M676.0,459.9V485.5M681.1,459.9V485.5M686.2,459.9V485.5M691.3,459.9V485.5M696.4,459.9V485.5M701.5,459.9V485.5M706.6,459.9V485.5M711.6,459.9V485.5M716.7,459.9V485.5M721.8,459.9V485.5M726.9,459.9V485.5M732.0,459.9V485.5M737.1,459.9V485.5M742.2,459.9V485.5M747.2,459.9V485.5M752.3,459.9V485.5M757.4,459.9V485.5M762.5,459.9V485.5" stroke="#c4c4c4" stroke-width="0.8" fill="none"/>
<path d="M65.8,459.9V485.5M91.2,459.9V485.5M116.6,459.9V485.5M142.0,459.9V485.5M167.5,459.9V485.5M192.9,459.9V485.5M218.3,459.9V485.5M243.8,459.9V485.5M269.2,459.9V485.5M294.6,459.9V485.5M320.0,459.9V485.5M345.5,459.9V485.5M370.9,459.9V485.5M396.3,459.9V485.5M421.8,459.9V485.5M447.2,459.9V485.5M472.6,459.9V485.5M498.0,459.9V485.5M523.5,459.9V485.5M548.9,459.9V485.5M574.3,459.9V485.5M599.8,459.9V485.5M625.2,459.9V485.5M650.6,459.9V485.5M676.0,459.9V485.5M701.5,459.9V485.5M726.9,459.9V485.5M752.3,459.9V485.5M762.5,459.9V485.5" stroke="#bdbdbd" stroke-width="0.8" fill="none"/>
<path d="M50.5,459.9H762.5" stroke="#b4b4b4" stroke-width="1" fill="none"/>
<text x="50.9" y="470.2" font-size="6.2" textLength="711.2" lengthAdjust="spacingAndGlyphs" font-weight="bold" fill="#4e4e4e">GAAUAGGAAAUCUAGGGUAAAGUUUUCUUAAGAAUAUUUGAGGCUCUAUGUAUUAAGCCCUAGCGCCACCGGGAGUAGUUAGGAAGAACAGCUUAUUUAUUGUACGAGAUACAGAGAAAAGUAGGGAUCAAGAAAACAAU</text>
<g font-size="6.4" text-anchor="middle" fill="#3c3c3c">
<text x="53.0" y="482.0">39</text>
<text x="78.5" y="482.0">44</text>
<text x="103.9" y="482.0">49</text>
<text x="129.3" y="482.0">54</text>
<text x="154.8" y="482.0">59</text>
<text x="180.2" y="482.0">64</text>
<text x="205.6" y="482.0">69</text>
<text x="231.0" y="482.0">74</text>
<text x="256.5" y="482.0">79</text>
<text x="281.9" y="482.0">84</text>
<text x="307.3" y="482.0">89</text>
<text x="332.8" y="482.0">94</text>
<text x="358.2" y="482.0">99</text>
<text x="383.6" y="482.0">104</text>
<text x="409.0" y="482.0">109</text>
<text x="434.5" y="482.0">114</text>
<text x="459.9" y="482.0">119</text>
<text x="485.3" y="482.0">124</text>
<text x="510.8" y="482.0">129</text>
<text x="536.2" y="482.0">134</text>
<text x="561.6" y="482.0">139</text>
<text x="587.0" y="482.0">144</text>
<text x="612.5" y="482.0">149</text>
<text x="637.9" y="482.0">154</text>
<text x="663.3" y="482.0">159</text>
<text x="688.8" y="482.0">164</text>
<text x="714.2" y="482.0">169</text>
<text x="739.6" y="482.0">174</text>
<text x="762.3" y="482.0">1</text>
</g>
<g fill="#9c9c9c"><rect x="61.82" y="456.16" width="2.80" height="3.74"/><rect x="66.90" y="452.99" width="2.80" height="6.91"/><rect x="71.99" y="449.82" width="2.80" height="10.08"/><rect x="77.07" y="442.91" width="2.80" height="16.99"/><rect x="82.16" y="453.56" width="2.80" height="6.34"/><rect x="87.24" y="458.17" width="2.80" height="1.73"/><rect x="102.50" y="451.26" width="2.80" height="8.64"/><rect x="107.59" y="404.60" width="2.80" height="55.30"/><rect x="112.67" y="442.62" width="2.80" height="17.28"/><rect x="117.76" y="437.15" width="2.80" height="22.75"/><rect x="122.84" y="447.23" width="2.80" height="12.67"/><rect x="127.93" y="452.12" width="2.80" height="7.78"/><rect x="133.02" y="455.58" width="2.80" height="4.32"/><rect x="138.10" y="455.58" width="2.80" height="4.32"/><rect x="143.19" y="451.84" width="2.80" height="8.06"/><rect x="148.27" y="451.84" width="2.80" height="8.06"/><rect x="153.36" y="445.21" width="2.80" height="14.69"/><rect x="158.44" y="446.08" width="2.80" height="13.82"/><rect x="163.53" y="445.21" width="2.80" height="14.69"/><rect x="168.62" y="452.99" width="2.80" height="6.91"/><rect x="173.70" y="453.85" width="2.80" height="6.05"/><rect x="178.79" y="453.85" width="2.80" height="6.05"/><rect x="183.87" y="444.64" width="2.80" height="15.26"/><rect x="188.96" y="442.33" width="2.80" height="17.57"/><rect x="194.04" y="450.40" width="2.80" height="9.50"/><rect x="199.13" y="451.84" width="2.80" height="8.06"/><rect x="204.22" y="456.16" width="2.80" height="3.74"/><rect x="209.30" y="452.12" width="2.80" height="7.78"/><rect x="214.39" y="452.41" width="2.80" height="7.49"/><rect x="219.47" y="453.28" width="2.80" height="6.62"/><rect x="224.56" y="457.60" width="2.80" height="2.30"/><rect x="229.64" y="446.08" width="2.80" height="13.82"/><rect x="234.73" y="437.44" width="2.80" height="22.46"/><rect x="239.82" y="443.48" width="2.80" height="16.42"/><rect x="244.90" y="431.10" width="2.80" height="28.80"/><rect x="249.99" y="444.64" width="2.80" height="15.26"/><rect x="255.07" y="436.28" width="2.80" height="23.62"/><rect x="260.16" y="438.88" width="2.80" height="21.02"/><rect x="265.24" y="438.30" width="2.80" height="21.60"/><rect x="270.33" y="453.85" width="2.80" height="6.05"/><rect x="300.84" y="457.02" width="2.80" height="2.88"/><rect x="305.93" y="452.99" width="2.80" height="6.91"/><rect x="311.02" y="455.29" width="2.80" height="4.61"/><rect x="316.10" y="455.58" width="2.80" height="4.32"/><rect x="321.19" y="456.44" width="2.80" height="3.46"/><rect x="326.27" y="453.56" width="2.80" height="6.34"/><rect x="331.36" y="452.99" width="2.80" height="6.91"/><rect x="336.44" y="452.12" width="2.80" height="7.78"/><rect x="341.53" y="457.02" width="2.80" height="2.88"/><rect x="361.87" y="459.32" width="2.80" height="0.58"/><rect x="392.39" y="457.02" width="2.80" height="2.88"/><rect x="397.47" y="453.56" width="2.80" height="6.34"/><rect x="402.56" y="453.56" width="2.80" height="6.34"/><rect x="407.64" y="457.60" width="2.80" height="2.30"/><rect x="412.73" y="457.60" width="2.80" height="12.38"/><rect x="448.33" y="458.17" width="2.80" height="1.73"/><rect x="453.42" y="453.56" width="2.80" height="6.34"/><rect x="458.50" y="451.84" width="2.80" height="8.06"/><rect x="463.59" y="453.56" width="2.80" height="6.34"/><rect x="473.76" y="458.17" width="2.80" height="1.73"/><rect x="478.84" y="459.04" width="2.80" height="0.86"/><rect x="489.02" y="453.56" width="2.80" height="6.34"/><rect x="509.36" y="459.04" width="2.80" height="0.86"/><rect x="519.53" y="457.88" width="2.80" height="2.02"/><rect x="524.62" y="445.21" width="2.80" height="14.69"/><rect x="529.70" y="441.76" width="2.80" height="18.14"/><rect x="534.79" y="449.53" width="2.80" height="12.10"/><rect x="539.87" y="444.64" width="2.80" height="15.26"/><rect x="544.96" y="450.68" width="2.80" height="9.22"/><rect x="550.04" y="444.64" width="2.80" height="15.26"/><rect x="555.13" y="451.84" width="2.80" height="8.06"/><rect x="560.22" y="444.64" width="2.80" height="15.26"/><rect x="565.30" y="445.50" width="2.80" height="14.40"/><rect x="570.39" y="436.28" width="2.80" height="23.62"/><rect x="575.47" y="450.68" width="2.80" height="9.22"/><rect x="580.56" y="456.16" width="2.80" height="3.74"/><rect x="605.99" y="458.17" width="2.80" height="1.73"/><rect x="672.10" y="453.56" width="2.80" height="6.34"/><rect x="712.79" y="451.84" width="2.80" height="8.06"/><rect x="717.87" y="454.14" width="2.80" height="5.76"/><rect x="722.96" y="457.02" width="2.80" height="2.88"/><rect x="728.04" y="445.79" width="2.80" height="14.11"/><rect x="733.13" y="457.02" width="2.80" height="2.88"/></g>
<path d="M63.21,456.16V459.90M68.30,452.99V459.90M73.39,449.82V459.90M78.47,442.91V459.90M83.56,453.56V459.90M88.64,458.17V459.90M103.90,451.26V459.90M108.99,404.60V459.90M114.07,442.62V459.90M119.16,437.15V459.90M124.24,447.23V459.90M129.33,452.12V459.90M134.41,455.58V459.90M139.50,455.58V459.90M144.59,451.84V459.90M149.67,451.84V459.90M154.76,445.21V459.90M159.84,446.08V459.90M164.93,445.21V459.90M170.01,452.99V459.90M175.10,453.85V459.90M180.19,453.85V459.90M185.27,444.64V459.90M190.36,442.33V459.90M195.44,450.40V459.90M200.53,451.84V459.90M205.61,456.16V459.90M210.70,452.12V459.90M215.79,452.41V459.90M220.87,453.28V459.90M225.96,457.60V459.90M231.04,446.08V459.90M236.13,437.44V459.90M241.21,443.48V459.90M246.30,431.10V459.90M251.39,444.64V459.90M256.47,436.28V459.90M261.56,438.88V459.90M266.64,438.30V459.90M271.73,453.85V459.90M302.24,457.02V459.90M307.33,452.99V459.90M312.41,455.29V459.90M317.50,455.58V459.90M322.59,456.44V459.90M327.67,453.56V459.90M332.76,452.99V459.90M337.84,452.12V459.90M342.93,457.02V459.90M363.27,459.32V459.90M393.79,457.02V459.90M398.87,453.56V459.90M403.96,453.56V459.90M409.04,457.60V459.90M414.13,457.60V469.98M449.73,458.17V459.90M454.81,453.56V459.90M459.90,451.84V459.90M464.99,453.56V459.90M475.16,458.17V459.90M480.24,459.04V459.90M490.41,453.56V459.90M510.76,459.04V459.90M520.93,457.88V459.90M526.01,445.21V459.90M531.10,441.76V459.90M536.19,449.53V461.63M541.27,444.64V459.90M546.36,450.68V459.90M551.44,444.64V459.90M556.53,451.84V459.90M561.61,444.64V459.90M566.70,445.50V459.90M571.79,436.28V459.90M576.87,450.68V459.90M581.96,456.16V459.90M607.39,458.17V459.90M673.50,453.56V459.90M714.19,451.84V459.90M719.27,454.14V459.90M724.36,457.02V459.90M729.44,445.79V459.90M734.53,457.02V459.90" stroke="#707070" stroke-width="0.7" fill="none"/>
<path d="M61.01,456.16H65.41M66.10,452.99H70.50M71.19,449.82H75.59M76.27,442.91H80.67M81.36,453.56H85.76M86.44,458.17H90.84M101.70,451.26H106.10M106.79,404.60H111.19M111.87,442.62H116.27M116.96,437.15H121.36M122.04,447.23H126.44M127.13,452.12H131.53M132.21,455.58H136.61M137.30,455.58H141.70M142.39,451.84H146.79M147.47,451.84H151.87M152.56,445.21H156.96M157.64,446.08H162.04M162.73,445.21H167.13M167.81,452.99H172.21M172.90,453.85H177.30M177.99,453.85H182.39M183.07,444.64H187.47M188.16,442.33H192.56M193.24,450.40H197.64M198.33,451.84H202.73M203.41,456.16H207.81M208.50,452.12H212.90M213.59,452.41H217.99M218.67,453.28H223.07M223.76,457.60H228.16M228.84,446.08H233.24M233.93,437.44H238.33M239.01,443.48H243.41M244.10,431.10H248.50M249.19,444.64H253.59M254.27,436.28H258.67M259.36,438.88H263.76M264.44,438.30H268.84M269.53,453.85H273.93M300.04,457.02H304.44M305.13,452.99H309.53M310.21,455.29H314.61M315.30,455.58H319.70M320.39,456.44H324.79M325.47,453.56H329.87M330.56,452.99H334.96M335.64,452.12H340.04M340.73,457.02H345.13M361.07,459.32H365.47M391.59,457.02H395.99M396.67,453.56H401.07M401.76,453.56H406.16M406.84,457.60H411.24M411.93,457.60H416.33M411.93,469.98H416.33M447.53,458.17H451.93M452.61,453.56H457.01M457.70,451.84H462.10M462.79,453.56H467.19M472.96,458.17H477.36M478.04,459.04H482.44M488.21,453.56H492.61M508.56,459.04H512.96M518.73,457.88H523.13M523.81,445.21H528.21M528.90,441.76H533.30M533.99,449.53H538.39M533.99,461.63H538.39M539.07,444.64H543.47M544.16,450.68H548.56M549.24,444.64H553.64M554.33,451.84H558.73M559.41,444.64H563.81M564.50,445.50H568.90M569.59,436.28H573.99M574.67,450.68H579.07M579.76,456.16H584.16M605.19,458.17H609.59M671.30,453.56H675.70M711.99,451.84H716.39M717.07,454.14H721.47M722.16,457.02H726.56M727.24,445.79H731.64M732.33,457.02H736.73" stroke="#444" stroke-width="1.1" fill="none"/>
<path d="M62.01,457.02L63.21,455.71L64.41,457.02L63.21,458.33ZM66.50,455.58L68.30,453.16L70.10,455.58L68.30,458.00ZM71.59,451.84L73.39,448.84L75.19,451.84L73.39,454.84ZM76.67,444.06L78.47,441.06L80.27,444.06L78.47,447.06ZM81.76,454.14L83.56,451.92L85.36,454.14L83.56,456.36ZM87.44,458.46L88.64,457.36L89.84,458.46L88.64,459.56ZM102.10,458.46L103.90,455.46L105.70,458.46L103.90,461.46ZM107.19,409.79L108.99,406.79L110.79,409.79L108.99,412.79ZM112.27,450.68L114.07,447.68L115.87,450.68L114.07,453.68ZM117.36,439.74L119.16,436.74L120.96,439.74L119.16,442.74ZM122.44,451.26L124.24,448.26L126.04,451.26L124.24,454.26ZM127.53,453.56L129.33,450.84L131.13,453.56L129.33,456.29ZM133.12,456.44L134.41,454.93L135.71,456.44L134.41,457.96ZM138.20,456.44L139.50,454.93L140.80,456.44L139.50,457.96ZM142.79,453.28L144.59,450.45L146.39,453.28L144.59,456.10ZM147.87,453.28L149.67,450.45L151.47,453.28L149.67,456.10ZM152.96,446.08L154.76,443.08L156.56,446.08L154.76,449.08ZM158.04,446.94L159.84,443.94L161.64,446.94L159.84,449.94ZM163.13,446.94L164.93,443.94L166.73,446.94L164.93,449.94ZM168.21,457.60L170.01,455.18L171.81,457.60L170.01,460.02ZM173.30,455.00L175.10,452.89L176.90,455.00L175.10,457.12ZM178.39,455.00L180.19,452.89L181.99,455.00L180.19,457.12ZM183.47,445.50L185.27,442.50L187.07,445.50L185.27,448.50ZM188.56,446.08L190.36,443.08L192.16,446.08L190.36,449.08ZM193.64,451.26L195.44,448.26L197.24,451.26L195.44,454.26ZM198.73,453.28L200.53,450.45L202.33,453.28L200.53,456.10ZM204.41,457.02L205.61,455.71L206.81,457.02L205.61,458.33ZM208.90,452.70L210.70,449.98L212.50,452.70L210.70,455.42ZM213.99,452.99L215.79,450.37L217.59,452.99L215.79,455.61ZM219.07,454.14L220.87,451.82L222.67,454.14L220.87,456.46ZM224.76,458.46L225.96,457.36L227.16,458.46L225.96,459.56ZM229.24,451.26L231.04,448.26L232.84,451.26L231.04,454.26ZM234.33,438.88L236.13,435.88L237.93,438.88L236.13,441.88ZM239.41,451.26L241.21,448.26L243.01,451.26L241.21,454.26ZM244.50,434.27L246.30,431.27L248.10,434.27L246.30,437.27ZM249.59,448.96L251.39,445.96L253.19,448.96L251.39,451.96ZM254.67,437.44L256.47,434.44L258.27,437.44L256.47,440.44ZM259.76,444.06L261.56,441.06L263.36,444.06L261.56,447.06ZM264.84,441.18L266.64,438.18L268.44,441.18L266.64,444.18ZM269.93,456.16L271.73,454.04L273.53,456.16L271.73,458.27ZM301.04,458.17L302.24,457.07L303.44,458.17L302.24,459.27ZM305.53,456.16L307.33,453.74L309.13,456.16L307.33,458.58ZM311.03,457.02L312.41,455.41L313.80,457.02L312.41,458.63ZM316.20,457.02L317.50,455.51L318.80,457.02L317.50,458.53ZM321.39,457.60L322.59,456.39L323.79,457.60L322.59,458.81ZM325.87,456.44L327.67,454.23L329.47,456.44L327.67,458.66ZM330.96,455.87L332.76,453.45L334.56,455.87L332.76,458.29ZM336.04,456.44L337.84,453.72L339.64,456.44L337.84,459.17ZM341.73,458.46L342.93,457.36L344.13,458.46L342.93,459.56ZM362.07,459.61L363.27,458.51L364.47,459.61L363.27,460.71ZM392.59,458.17L393.79,457.07L394.99,458.17L393.79,459.27ZM397.07,456.16L398.87,453.94L400.67,456.16L398.87,458.37ZM402.16,455.58L403.96,453.36L405.76,455.58L403.96,457.80ZM407.84,458.46L409.04,457.36L410.24,458.46L409.04,459.56ZM412.33,463.93L414.13,460.93L415.93,463.93L414.13,466.93ZM448.53,458.75L449.73,457.65L450.93,458.75L449.73,459.85ZM453.01,456.44L454.81,454.23L456.61,456.44L454.81,458.66ZM458.10,455.58L459.90,452.76L461.70,455.58L459.90,458.40ZM463.19,456.44L464.99,454.23L466.79,456.44L464.99,458.66ZM473.96,458.75L475.16,457.65L476.36,458.75L475.16,459.85ZM479.04,459.32L480.24,458.22L481.44,459.32L480.24,460.42ZM488.61,456.16L490.41,453.94L492.21,456.16L490.41,458.37ZM509.56,459.32L510.76,458.22L511.96,459.32L510.76,460.42ZM519.73,458.75L520.93,457.65L522.13,458.75L520.93,459.85ZM524.21,451.26L526.01,448.26L527.81,451.26L526.01,454.26ZM529.30,444.06L531.10,441.06L532.90,444.06L531.10,447.06ZM534.39,455.58L536.19,452.58L537.99,455.58L536.19,458.58ZM539.47,446.08L541.27,443.08L543.07,446.08L541.27,449.08ZM544.56,452.12L546.36,449.12L548.16,452.12L546.36,455.12ZM549.64,446.36L551.44,443.36L553.24,446.36L551.44,449.36ZM554.73,452.70L556.53,449.88L558.33,452.70L556.53,455.52ZM559.81,446.08L561.61,443.08L563.41,446.08L561.61,449.08ZM564.90,452.12L566.70,449.12L568.50,452.12L566.70,455.12ZM569.99,439.45L571.79,436.45L573.59,439.45L571.79,442.45ZM575.07,452.70L576.87,449.70L578.67,452.70L576.87,455.70ZM580.76,457.60L581.96,456.29L583.16,457.60L581.96,458.91ZM606.19,458.75L607.39,457.65L608.59,458.75L607.39,459.85ZM671.70,454.43L673.50,452.21L675.30,454.43L673.50,456.65ZM712.39,455.58L714.19,452.76L715.99,455.58L714.19,458.40ZM717.54,456.44L719.27,454.43L721.00,456.44L719.27,458.46ZM723.16,458.17L724.36,457.07L725.56,458.17L724.36,459.27ZM727.64,451.26L729.44,448.26L731.24,451.26L729.44,454.26ZM733.33,458.17L734.53,457.07L735.73,458.17L734.53,459.27Z" fill="#2e2e2e"/>
</g>
<g id="B2">
<path d="M50.9,504V625.0M48.4,506.4H50.9M48.4,519.4H50.9M48.4,532.4H50.9M48.4,545.4H50.9M48.4,558.4H50.9M48.4,571.4H50.9M48.4,584.4H50.9M48.4,597.4H50.9M48.4,610.4H50.9M48.4,623.4H50.9" stroke="#c2c2c2" stroke-width="0.9" fill="none"/>
<g font-size="5.8" text-anchor="end" fill="#666">
<text x="44" y="508.5">3.5</text>
<text x="44" y="521.5">3</text>
<text x="44" y="534.5">2.5</text>
<text x="44" y="547.5">2</text>
<text x="44" y="560.5">1.5</text>
<text x="44" y="573.5">1</text>
<text x="44" y="586.5">0.5</text>
<text x="44" y="599.5">0</text>
<text x="44" y="612.5">-0.5</text>
<text x="44" y="625.5">-1</text>
</g>
<path d="M52.8,599V625M57.8,599V625M62.9,599V625M67.9,599V625M72.9,599V625M78.0,599V625M83.0,599V625M88.0,599V625M93.1,599V625M98.1,599V625M103.1,599V625M108.2,599V625M113.2,599V625M118.2,599V625M123.3,599V625M128.3,599V625M133.3,599V625M138.4,599V625M143.4,599V625M148.4,599V625M153.5,599V625M158.5,599V625M163.5,599V625M168.6,599V625M173.6,599V625M178.6,599V625M183.7,599V625M188.7,599V625M193.7,599V625M198.8,599V625M203.8,599V625M208.8,599V625M213.9,599V625M218.9,599V625M223.9,599V625M229.0,599V625M234.0,599V625M239.0,599V625M244.1,599V625M249.1,599V625M254.1,599V625M259.2,599V625M264.2,599V625M269.2,599V625M274.3,599V625M279.3,599V625M284.3,599V625M289.4,599V625M294.4,599V625M299.4,599V625M304.5,599V625M309.5,599V625M314.5,599V625M319.6,599V625M324.6,599V625M329.6,599V625M334.7,599V625M339.7,599V625M344.7,599V625M349.8,599V625M354.8,599V625M359.8,599V625M364.9,599V625M369.9,599V625M374.9,599V625M380.0,599V625M385.0,599V625M390.0,599V625M395.1,599V625M400.1,599V625M405.2,599V625M410.2,599V625M415.2,599V625M420.3,599V625M425.3,599V625M430.3,599V625M435.4,599V625M440.4,599V625M445.4,599V625M450.5,599V625M455.5,599V625M460.5,599V625M465.6,599V625M470.6,599V625M475.6,599V625M480.7,599V625M485.7,599V625M490.7,599V625M495.8,599V625M500.8,599V625M505.8,599V625M510.9,599V625M515.9,599V625M520.9,599V625M526.0,599V625M531.0,599V625M536.0,599V625M541.1,599V625M546.1,599V625M551.1,599V625M556.2,599V625M561.2,599V625M566.2,599V625M571.3,599V625M576.3,599V625M581.3,599V625M586.4,599V625M591.4,599V625M596.4,599V625M601.5,599V625M606.5,599V625M611.5,599V625M616.6,599V625M621.6,599V625M626.6,599V625M631.7,599V625M636.7,599V625M641.7,599V625M646.8,599V625M651.8,599V625M656.8,599V625M661.9,599V625M666.9,599V625M671.9,599V625M677.0,599V625M682.0,599V625M687.0,599V625M692.1,599V625M697.1,599V625M702.1,599V625M707.2,599V625M712.2,599V625M717.2,599V625M722.3,599V625M727.3,599V625M732.3,599V625M737.4,599V625M742.4,599V625M747.4,599V625M752.5,599V625M757.5,599V625" stroke="#c4c4c4" stroke-width="0.8" fill="none"/>
<path d="M67.9,599V625M93.1,599V625M118.2,599V625M143.4,599V625M168.6,599V625M193.7,599V625M218.9,599V625M244.1,599V625M269.2,599V625M294.4,599V625M319.6,599V625M344.7,599V625M369.9,599V625M395.1,599V625M420.3,599V625M445.4,599V625M470.6,599V625M495.8,599V625M520.9,599V625M546.1,599V625M571.3,599V625M596.4,599V625M621.6,599V625M646.8,599V625M671.9,599V625M697.1,599V625M722.3,599V625M747.4,599V625M757.5,599V625" stroke="#bdbdbd" stroke-width="0.8" fill="none"/>
<path d="M52.8,599.0H757.5" stroke="#5a5a5a" stroke-width="1" fill="none"/>
<text x="53.2" y="607.7" font-size="6.2" textLength="703.9" lengthAdjust="spacingAndGlyphs" font-weight="bold" fill="#4e4e4e">UUACAAAACAGUAUAUUAAAAAUAUAUAGCCCAGCUCCUUCGGGUGAUCCAGUGCACGCUGGCGAGAAAACGAUUACCUCCUUAGUGCUCGAAUAGCUAGCCUACUCUUCUCAAGACUUGAAUCGUAGUUUAUUAAGUGA</text>
<g font-size="6.4" text-anchor="middle" fill="#3c3c3c">
<text x="55.3" y="620.9">179</text>
<text x="80.5" y="620.9">184</text>
<text x="105.7" y="620.9">189</text>
<text x="130.8" y="620.9">194</text>
<text x="156.0" y="620.9">199</text>
<text x="181.2" y="620.9">204</text>
<text x="206.3" y="620.9">209</text>
<text x="231.5" y="620.9">214</text>
<text x="256.7" y="620.9">219</text>
<text x="281.8" y="620.9">224</text>
<text x="307.0" y="620.9">229</text>
<text x="332.2" y="620.9">234</text>
<text x="357.3" y="620.9">239</text>
<text x="382.5" y="620.9">244</text>
<text x="407.7" y="620.9">249</text>
<text x="432.8" y="620.9">254</text>
<text x="458.0" y="620.9">259</text>
<text x="483.2" y="620.9">264</text>
<text x="508.3" y="620.9">269</text>
<text x="533.5" y="620.9">274</text>
<text x="558.7" y="620.9">279</text>
<text x="583.8" y="620.9">284</text>
<text x="609.0" y="620.9">289</text>
<text x="634.2" y="620.9">294</text>
<text x="659.3" y="620.9">299</text>
<text x="684.5" y="620.9">304</text>
<text x="709.7" y="620.9">309</text>
<text x="734.8" y="620.9">314</text>
</g>
<path d="M316,625.5H757.5" stroke="#666" stroke-width="1.7" fill="none"/>
<g fill="#9c9c9c"><rect x="53.93" y="592.24" width="2.77" height="6.76"/><rect x="58.97" y="592.50" width="2.77" height="6.50"/><rect x="99.23" y="592.24" width="2.77" height="6.76"/><rect x="134.47" y="596.92" width="2.77" height="2.08"/><rect x="139.50" y="593.28" width="2.77" height="5.72"/><rect x="144.54" y="592.76" width="2.77" height="6.24"/><rect x="149.57" y="594.58" width="2.77" height="4.42"/><rect x="154.60" y="592.76" width="2.77" height="6.24"/><rect x="159.64" y="592.24" width="2.77" height="6.76"/><rect x="164.67" y="581.84" width="2.77" height="17.16"/><rect x="169.70" y="594.84" width="2.77" height="4.16"/><rect x="194.87" y="597.96" width="2.77" height="1.04"/><rect x="199.91" y="593.28" width="2.77" height="5.72"/><rect x="204.94" y="580.54" width="2.77" height="18.46"/><rect x="209.97" y="590.42" width="2.77" height="8.58"/><rect x="215.01" y="566.50" width="2.77" height="32.50"/><rect x="220.04" y="580.80" width="2.77" height="18.20"/><rect x="225.07" y="591.72" width="2.77" height="7.28"/><rect x="250.24" y="596.40" width="2.77" height="2.60"/><rect x="270.38" y="597.96" width="2.77" height="1.04"/><rect x="275.41" y="597.70" width="2.77" height="1.30"/><rect x="280.44" y="596.40" width="2.77" height="5.20"/><rect x="285.48" y="597.70" width="2.77" height="1.30"/><rect x="290.51" y="597.70" width="2.77" height="1.30"/><rect x="295.54" y="591.72" width="2.77" height="7.28"/><rect x="300.58" y="583.14" width="2.77" height="15.86"/><rect x="305.61" y="564.68" width="2.77" height="34.32"/><rect x="310.64" y="580.28" width="2.77" height="18.72"/><rect x="315.68" y="582.36" width="2.77" height="16.64"/><rect x="320.71" y="592.24" width="2.77" height="6.76"/><rect x="325.75" y="574.82" width="2.77" height="24.18"/><rect x="330.78" y="592.24" width="2.77" height="6.76"/><rect x="335.81" y="597.70" width="2.77" height="1.30"/><rect x="366.01" y="597.70" width="2.77" height="5.20"/><rect x="386.15" y="596.40" width="2.77" height="2.60"/><rect x="391.18" y="587.56" width="2.77" height="11.44"/><rect x="396.22" y="596.40" width="2.77" height="2.60"/><rect x="401.25" y="596.92" width="2.77" height="2.08"/><rect x="426.42" y="597.70" width="2.77" height="1.30"/><rect x="431.45" y="592.50" width="2.77" height="6.50"/><rect x="436.48" y="593.54" width="2.77" height="5.46"/><rect x="441.52" y="594.84" width="2.77" height="4.16"/><rect x="446.55" y="587.04" width="2.77" height="11.96"/><rect x="451.58" y="590.42" width="2.77" height="8.58"/><rect x="456.62" y="594.32" width="2.77" height="4.68"/><rect x="461.65" y="592.50" width="2.77" height="6.50"/><rect x="466.69" y="592.76" width="2.77" height="6.24"/><rect x="471.72" y="597.70" width="2.77" height="1.30"/><rect x="481.79" y="593.54" width="2.77" height="5.46"/><rect x="486.82" y="570.40" width="2.77" height="28.60"/><rect x="491.85" y="503.84" width="2.77" height="95.16"/><rect x="496.89" y="573.52" width="2.77" height="25.48"/><rect x="501.92" y="597.70" width="2.77" height="1.30"/><rect x="522.05" y="598.22" width="2.77" height="0.78"/><rect x="527.09" y="581.58" width="2.77" height="17.42"/><rect x="532.12" y="535.30" width="2.77" height="63.70"/><rect x="537.16" y="574.30" width="2.77" height="24.70"/><rect x="542.19" y="591.98" width="2.77" height="7.02"/><rect x="547.22" y="582.62" width="2.77" height="16.38"/><rect x="552.26" y="579.50" width="2.77" height="19.50"/><rect x="557.29" y="579.50" width="2.77" height="19.50"/><rect x="562.32" y="590.94" width="2.77" height="8.06"/><rect x="587.49" y="598.22" width="2.77" height="5.98"/><rect x="592.52" y="591.98" width="2.77" height="7.02"/><rect x="597.56" y="591.46" width="2.77" height="7.54"/><rect x="602.59" y="592.76" width="2.77" height="6.24"/><rect x="607.63" y="595.10" width="2.77" height="3.90"/><rect x="612.66" y="595.10" width="2.77" height="3.90"/><rect x="617.69" y="591.98" width="2.77" height="7.02"/><rect x="622.73" y="591.98" width="2.77" height="7.02"/><rect x="627.76" y="592.24" width="2.77" height="6.76"/><rect x="632.79" y="598.48" width="2.77" height="0.52"/><rect x="637.83" y="597.18" width="2.77" height="1.82"/><rect x="642.86" y="597.18" width="2.77" height="1.82"/><rect x="647.89" y="598.22" width="2.77" height="0.78"/><rect x="652.93" y="593.80" width="2.77" height="5.20"/><rect x="657.96" y="584.70" width="2.77" height="14.30"/><rect x="662.99" y="592.24" width="2.77" height="6.76"/><rect x="683.13" y="597.18" width="2.77" height="1.82"/><rect x="688.16" y="596.66" width="2.77" height="2.34"/><rect x="693.20" y="596.40" width="2.77" height="2.60"/><rect x="698.23" y="597.18" width="2.77" height="1.82"/><rect x="723.40" y="597.44" width="2.77" height="1.56"/><rect x="728.43" y="574.56" width="2.77" height="24.44"/><rect x="733.46" y="596.40" width="2.77" height="2.60"/><rect x="738.50" y="596.40" width="2.77" height="2.60"/><rect x="743.53" y="597.70" width="2.77" height="1.30"/><rect x="748.57" y="592.24" width="2.77" height="6.76"/><rect x="753.60" y="592.24" width="2.77" height="6.76"/></g>
<path d="M55.32,592.24V599.00M60.35,592.50V599.00M100.62,592.24V599.00M135.85,596.92V599.00M140.89,593.28V599.00M145.92,592.76V599.00M150.95,594.58V599.00M155.99,592.76V599.00M161.02,592.24V599.00M166.06,581.84V599.00M171.09,594.84V599.00M196.26,597.96V599.00M201.29,593.28V599.00M206.32,580.54V599.00M211.36,590.42V599.00M216.39,566.50V599.00M221.42,580.80V599.00M226.46,591.72V599.00M251.63,596.40V599.00M271.76,597.96V599.00M276.79,597.70V599.00M281.83,596.40V601.60M286.86,597.70V599.00M291.89,597.70V599.00M296.93,591.72V599.00M301.96,583.14V599.00M307.00,564.68V599.00M312.03,580.28V599.00M317.06,582.36V599.00M322.10,592.24V599.00M327.13,574.82V599.00M332.16,592.24V599.00M337.20,597.70V599.00M367.40,597.70V602.90M387.53,596.40V599.00M392.57,587.56V599.00M397.60,596.40V599.00M402.63,596.92V599.00M427.80,597.70V599.00M432.83,592.50V599.00M437.87,593.54V599.00M442.90,594.84V599.00M447.94,587.04V599.00M452.97,590.42V599.00M458.00,594.32V599.00M463.04,592.50V599.00M468.07,592.76V599.00M473.10,597.70V599.00M483.17,593.54V599.00M488.20,570.40V599.00M493.24,503.84V599.00M498.27,573.52V599.00M503.30,597.70V599.00M523.44,598.22V599.00M528.47,581.58V599.00M533.51,535.30V599.00M538.54,574.30V599.00M543.57,591.98V599.00M548.61,582.62V599.00M553.64,579.50V599.00M558.67,579.50V599.00M563.71,590.94V599.00M588.88,598.22V604.20M593.91,591.98V599.00M598.94,591.46V599.00M603.98,592.76V599.00M609.01,595.10V599.00M614.04,595.10V599.00M619.08,591.98V599.00M624.11,591.98V599.00M629.14,592.24V599.00M634.18,598.48V599.00M639.21,597.18V599.00M644.24,597.18V599.00M649.28,598.22V599.00M654.31,593.80V599.00M659.35,584.70V599.00M664.38,592.24V599.00M684.51,597.18V599.00M689.55,596.66V599.00M694.58,596.40V599.00M699.61,597.18V599.00M724.78,597.44V599.00M729.82,574.56V599.00M734.85,596.40V599.00M739.88,596.40V599.00M744.92,597.70V599.00M749.95,592.24V599.00M754.98,592.24V599.00" stroke="#707070" stroke-width="0.7" fill="none"/>
<path d="M53.12,592.24H57.52M58.15,592.50H62.55M98.42,592.24H102.82M133.65,596.92H138.05M138.69,593.28H143.09M143.72,592.76H148.12M148.75,594.58H153.15M153.79,592.76H158.19M158.82,592.24H163.22M163.86,581.84H168.26M168.89,594.84H173.29M194.06,597.96H198.46M199.09,593.28H203.49M204.12,580.54H208.52M209.16,590.42H213.56M214.19,566.50H218.59M219.22,580.80H223.62M224.26,591.72H228.66M249.43,596.40H253.83M269.56,597.96H273.96M274.59,597.70H278.99M279.63,596.40H284.03M279.63,601.60H284.03M284.66,597.70H289.06M289.69,597.70H294.09M294.73,591.72H299.13M299.76,583.14H304.16M304.80,564.68H309.20M309.83,580.28H314.23M314.86,582.36H319.26M319.90,592.24H324.30M324.93,574.82H329.33M329.96,592.24H334.36M335.00,597.70H339.40M365.20,597.70H369.60M365.20,602.90H369.60M385.33,596.40H389.73M390.37,587.56H394.77M395.40,596.40H399.80M400.43,596.92H404.83M425.60,597.70H430.00M430.63,592.50H435.03M435.67,593.54H440.07M440.70,594.84H445.10M445.74,587.04H450.14M450.77,590.42H455.17M455.80,594.32H460.20M460.84,592.50H465.24M465.87,592.76H470.27M470.90,597.70H475.30M480.97,593.54H485.37M486.00,570.40H490.40M491.04,503.84H495.44M496.07,573.52H500.47M501.10,597.70H505.50M521.24,598.22H525.64M526.27,581.58H530.67M531.31,535.30H535.71M536.34,574.30H540.74M541.37,591.98H545.77M546.41,582.62H550.81M551.44,579.50H555.84M556.47,579.50H560.87M561.51,590.94H565.91M586.68,598.22H591.08M586.68,604.20H591.08M591.71,591.98H596.11M596.74,591.46H601.14M601.78,592.76H606.18M606.81,595.10H611.21M611.84,595.10H616.24M616.88,591.98H621.28M621.91,591.98H626.31M626.94,592.24H631.34M631.98,598.48H636.38M637.01,597.18H641.41M642.04,597.18H646.44M647.08,598.22H651.48M652.11,593.80H656.51M657.15,584.70H661.55M662.18,592.24H666.58M682.31,597.18H686.71M687.35,596.66H691.75M692.38,596.40H696.78M697.41,597.18H701.81M722.58,597.44H726.98M727.62,574.56H732.02M732.65,596.40H737.05M737.68,596.40H742.08M742.72,597.70H747.12M747.75,592.24H752.15M752.78,592.24H757.18" stroke="#444" stroke-width="1.1" fill="none"/>
<path d="M53.52,593.80L55.32,591.43L57.12,593.80L55.32,596.17ZM58.55,594.58L60.35,592.31L62.15,594.58L60.35,596.86ZM98.82,593.80L100.62,591.43L102.42,593.80L100.62,596.17ZM134.65,597.70L135.85,596.60L137.05,597.70L135.85,598.80ZM139.17,595.10L140.89,593.10L142.60,595.10L140.89,597.10ZM144.12,595.10L145.92,592.92L147.72,595.10L145.92,597.28ZM149.63,596.92L150.95,595.37L152.28,596.92L150.95,598.47ZM154.19,595.88L155.99,593.70L157.79,595.88L155.99,598.06ZM159.22,594.32L161.02,591.95L162.82,594.32L161.02,596.69ZM164.26,586.00L166.06,583.00L167.86,586.00L166.06,589.00ZM169.84,596.40L171.09,594.94L172.34,596.40L171.09,597.86ZM195.06,598.22L196.26,597.12L197.46,598.22L196.26,599.32ZM199.57,596.40L201.29,594.40L203.01,596.40L201.29,598.40ZM204.52,582.36L206.32,579.36L208.12,582.36L206.32,585.36ZM209.56,591.72L211.36,588.72L213.16,591.72L211.36,594.72ZM214.59,568.32L216.39,565.32L218.19,568.32L216.39,571.32ZM219.62,585.48L221.42,582.48L223.22,585.48L221.42,588.48ZM224.66,592.76L226.46,590.21L228.26,592.76L226.46,595.31ZM250.43,597.44L251.63,596.34L252.83,597.44L251.63,598.54ZM270.56,598.22L271.76,597.12L272.96,598.22L271.76,599.32ZM275.59,598.22L276.79,597.12L277.99,598.22L276.79,599.32ZM280.27,599.00L281.83,597.18L283.39,599.00L281.83,600.82ZM285.66,598.22L286.86,597.12L288.06,598.22L286.86,599.32ZM290.69,598.22L291.89,597.12L293.09,598.22L291.89,599.32ZM295.13,593.28L296.93,590.73L298.73,593.28L296.93,595.83ZM300.16,587.82L301.96,584.82L303.76,587.82L301.96,590.82ZM305.20,570.92L307.00,567.92L308.80,570.92L307.00,573.92ZM310.23,585.48L312.03,582.48L313.83,585.48L312.03,588.48ZM315.26,586.00L317.06,583.00L318.86,586.00L317.06,589.00ZM320.30,593.80L322.10,591.43L323.90,593.80L322.10,596.17ZM325.33,580.80L327.13,577.80L328.93,580.80L327.13,583.80ZM330.36,593.80L332.16,591.43L333.96,593.80L332.16,596.17ZM336.00,598.22L337.20,597.12L338.40,598.22L337.20,599.32ZM365.84,600.30L367.40,598.48L368.96,600.30L367.40,602.12ZM386.33,597.44L387.53,596.34L388.73,597.44L387.53,598.54ZM390.77,589.90L392.57,586.90L394.37,589.90L392.57,592.90ZM396.40,597.44L397.60,596.34L398.80,597.44L397.60,598.54ZM401.43,597.70L402.63,596.60L403.83,597.70L402.63,598.80ZM426.60,598.22L427.80,597.12L429.00,598.22L427.80,599.32ZM431.03,594.32L432.83,592.05L434.63,594.32L432.83,596.60ZM436.23,595.10L437.87,593.19L439.51,595.10L437.87,597.01ZM441.65,596.40L442.90,594.94L444.15,596.40L442.90,597.86ZM446.14,588.60L447.94,585.60L449.74,588.60L447.94,591.60ZM451.17,591.98L452.97,588.98L454.77,591.98L452.97,594.98ZM456.60,595.88L458.00,594.24L459.41,595.88L458.00,597.52ZM461.24,594.32L463.04,592.05L464.84,594.32L463.04,596.60ZM466.27,594.32L468.07,592.14L469.87,594.32L468.07,596.50ZM471.90,598.22L473.10,597.12L474.30,598.22L473.10,599.32ZM481.53,596.40L483.17,594.49L484.81,596.40L483.17,598.31ZM486.40,573.00L488.20,570.00L490.00,573.00L488.20,576.00ZM491.44,512.42L493.24,509.42L495.04,512.42L493.24,515.42ZM496.47,574.30L498.27,571.30L500.07,574.30L498.27,577.30ZM502.10,598.22L503.30,597.12L504.50,598.22L503.30,599.32ZM522.24,598.48L523.44,597.38L524.64,598.48L523.44,599.58ZM526.67,583.92L528.47,580.92L530.27,583.92L528.47,586.92ZM531.71,541.80L533.51,538.80L535.31,541.80L533.51,544.80ZM536.74,574.82L538.54,571.82L540.34,574.82L538.54,577.82ZM541.77,592.76L543.57,590.30L545.37,592.76L543.57,595.22ZM546.81,586.26L548.61,583.26L550.41,586.26L548.61,589.26ZM551.84,580.80L553.64,577.80L555.44,580.80L553.64,583.80ZM556.87,580.80L558.67,577.80L560.47,580.80L558.67,583.80ZM561.91,591.98L563.71,589.16L565.51,591.98L563.71,594.80ZM587.08,600.30L588.88,598.21L590.67,600.30L588.88,602.39ZM592.11,593.80L593.91,591.34L595.71,593.80L593.91,596.26ZM597.14,593.80L598.94,591.16L600.74,593.80L598.94,596.44ZM602.18,595.88L603.98,593.70L605.78,595.88L603.98,598.06ZM607.81,596.92L609.01,595.55L610.21,596.92L609.01,598.28ZM612.84,596.92L614.04,595.55L615.24,596.92L614.04,598.28ZM617.28,594.32L619.08,591.86L620.88,594.32L619.08,596.78ZM622.31,594.32L624.11,591.86L625.91,594.32L624.11,596.78ZM627.34,593.80L629.14,591.43L630.94,593.80L629.14,596.17ZM632.98,598.74L634.18,597.64L635.38,598.74L634.18,599.84ZM638.01,597.70L639.21,596.60L640.41,597.70L639.21,598.80ZM643.04,597.70L644.24,596.60L645.44,597.70L644.24,598.80ZM648.08,598.48L649.28,597.38L650.48,598.48L649.28,599.58ZM652.75,596.40L654.31,594.58L655.87,596.40L654.31,598.22ZM657.55,588.08L659.35,585.08L661.15,588.08L659.35,591.08ZM662.58,594.32L664.38,591.95L666.18,594.32L664.38,596.69ZM683.31,597.70L684.51,596.60L685.71,597.70L684.51,598.80ZM688.35,597.44L689.55,596.34L690.75,597.44L689.55,598.54ZM693.38,597.18L694.58,596.08L695.78,597.18L694.58,598.28ZM698.41,597.70L699.61,596.60L700.81,597.70L699.61,598.80ZM723.58,597.96L724.78,596.86L725.98,597.96L724.78,599.06ZM728.02,580.28L729.82,577.28L731.62,580.28L729.82,583.28ZM733.65,597.18L734.85,596.08L736.05,597.18L734.85,598.28ZM738.68,597.18L739.88,596.08L741.08,597.18L739.88,598.28ZM743.72,598.22L744.92,597.12L746.12,598.22L744.92,599.32ZM748.15,594.32L749.95,591.95L751.75,594.32L749.95,596.69ZM753.18,594.32L754.98,591.95L756.78,594.32L754.98,596.69Z" fill="#2e2e2e"/>
</g>
<g id="B3">
<path d="M48.4,645V730.0M45.9,647.0H48.4M45.9,660.1H48.4M45.9,673.2H48.4M45.9,686.3H48.4M45.9,699.4H48.4M45.9,712.5H48.4M45.9,725.6H48.4" stroke="#c2c2c2" stroke-width="0.9" fill="none"/>
<g font-size="5.8" text-anchor="end" fill="#666">
<text x="42" y="649.1">2</text>
<text x="42" y="662.2">1.5</text>
<text x="42" y="675.3">1</text>
<text x="42" y="688.4">0.5</text>
<text x="42" y="701.5">0</text>
<text x="42" y="714.6">-0.5</text>
<text x="42" y="727.7">-1</text>
</g>
<path d="M49.0,699.8V730M54.0,699.8V730M59.1,699.8V730M64.1,699.8V730M69.1,699.8V730M74.2,699.8V730M79.2,699.8V730M84.2,699.8V730M89.3,699.8V730M94.3,699.8V730M99.4,699.8V730M104.4,699.8V730M109.4,699.8V730M114.5,699.8V730M119.5,699.8V730M124.5,699.8V730M129.6,699.8V730M134.6,699.8V730M139.6,699.8V730M144.7,699.8V730M149.7,699.8V730M154.8,699.8V730M159.8,699.8V730M164.8,699.8V730M169.9,699.8V730M174.9,699.8V730M179.9,699.8V730M185.0,699.8V730M190.0,699.8V730M195.0,699.8V730M200.1,699.8V730M205.1,699.8V730M210.1,699.8V730M215.2,699.8V730M220.2,699.8V730M225.2,699.8V730M230.3,699.8V730M235.3,699.8V730M240.4,699.8V730M245.4,699.8V730M250.4,699.8V730M255.5,699.8V730M260.5,699.8V730M265.5,699.8V730M270.6,699.8V730M275.6,699.8V730M280.6,699.8V730M285.7,699.8V730M290.7,699.8V730M295.8,699.8V730M300.8,699.8V730M305.8,699.8V730M310.9,699.8V730M315.9,699.8V730M320.9,699.8V730M326.0,699.8V730M331.0,699.8V730M336.0,699.8V730M341.1,699.8V730M346.1,699.8V730M351.1,699.8V730M356.2,699.8V730M361.2,699.8V730M366.2,699.8V730M371.3,699.8V730M376.3,699.8V730M381.4,699.8V730M386.4,699.8V730M391.4,699.8V730M396.5,699.8V730M401.5,699.8V730M406.5,699.8V730M411.6,699.8V730M416.6,699.8V730M421.6,699.8V730M426.7,699.8V730M431.7,699.8V730M436.8,699.8V730M441.8,699.8V730M446.8,699.8V730M451.9,699.8V730M456.9,699.8V730M461.9,699.8V730M467.0,699.8V730M472.0,699.8V730M477.0,699.8V730M482.1,699.8V730M487.1,699.8V730M492.1,699.8V730M497.2,699.8V730M502.2,699.8V730M507.2,699.8V730M512.3,699.8V730M517.3,699.8V730M522.4,699.8V730M527.4,699.8V730M532.4,699.8V730M537.5,699.8V730M542.5,699.8V730M547.5,699.8V730M552.6,699.8V730M557.6,699.8V730M562.6,699.8V730M567.7,699.8V730M572.7,699.8V730M577.8,699.8V730M582.8,699.8V730M587.8,699.8V730M592.9,699.8V730M597.9,699.8V730M602.9,699.8V730M608.0,699.8V730M613.0,699.8V730M618.0,699.8V730M623.1,699.8V730M628.1,699.8V730M633.1,699.8V730M638.2,699.8V730M643.2,699.8V730M648.2,699.8V730M653.3,699.8V730M658.3,699.8V730M663.4,699.8V730M668.4,699.8V730M673.4,699.8V730M678.5,699.8V730M683.5,699.8V730M688.5,699.8V730M693.6,699.8V730M698.6,699.8V730M703.6,699.8V730M708.7,699.8V730M713.7,699.8V730M718.8,699.8V730M723.8,699.8V730M728.8,699.8V730M733.9,699.8V730M738.9,699.8V730M743.9,699.8V730M749.0,699.8V730M754.0,699.8V730" stroke="#c4c4c4" stroke-width="0.8" fill="none"/>
<path d="M69.1,699.8V730M94.3,699.8V730M119.5,699.8V730M144.7,699.8V730M169.9,699.8V730M195.0,699.8V730M220.2,699.8V730M245.4,699.8V730M270.6,699.8V730M295.8,699.8V730M320.9,699.8V730M346.1,699.8V730M371.3,699.8V730M396.5,699.8V730M421.6,699.8V730M446.8,699.8V730M472.0,699.8V730M497.2,699.8V730M522.4,699.8V730M547.5,699.8V730M572.7,699.8V730M597.9,699.8V730M623.1,699.8V730M648.2,699.8V730M673.4,699.8V730M698.6,699.8V730M723.8,699.8V730M749.0,699.8V730M754.0,699.8V730" stroke="#bdbdbd" stroke-width="0.8" fill="none"/>
<path d="M49.0,699.8H754.0" stroke="#5a5a5a" stroke-width="1" fill="none"/>
<text x="49.4" y="709.6" font-size="6.2" textLength="704.2" lengthAdjust="spacingAndGlyphs" font-weight="bold" fill="#4e4e4e">UAAAAAUAAUACCAACAUUUGUGCGAGACUCGACCAUUUUAAGGUAAUGGAGUAUUGGAGCCAUAUUAACUCGCUACAUUUCUAGUCGAGUUGAACAGAAUAUUCAAGGCCAAAAAUAUAACAACACAUCUUUUAACCAU</text>
<g font-size="6.4" text-anchor="middle" fill="#3c3c3c">
<text x="56.6" y="722.6">319</text>
<text x="81.7" y="722.6">324</text>
<text x="106.9" y="722.6">329</text>
<text x="132.1" y="722.6">334</text>
<text x="157.3" y="722.6">339</text>
<text x="182.4" y="722.6">344</text>
<text x="207.6" y="722.6">349</text>
<text x="232.8" y="722.6">354</text>
<text x="258.0" y="722.6">359</text>
<text x="283.2" y="722.6">364</text>
<text x="308.3" y="722.6">369</text>
<text x="333.5" y="722.6">374</text>
<text x="358.7" y="722.6">379</text>
<text x="383.9" y="722.6">384</text>
<text x="409.1" y="722.6">389</text>
<text x="434.2" y="722.6">394</text>
<text x="459.4" y="722.6">399</text>
<text x="484.6" y="722.6">404</text>
<text x="509.8" y="722.6">409</text>
<text x="534.9" y="722.6">414</text>
<text x="560.1" y="722.6">419</text>
<text x="585.3" y="722.6">424</text>
<text x="610.5" y="722.6">429</text>
<text x="635.7" y="722.6">434</text>
<text x="660.8" y="722.6">439</text>
<text x="686.0" y="722.6">444</text>
<text x="711.2" y="722.6">449</text>
<text x="736.4" y="722.6">454</text>
</g>
<path d="M48,730.2H759" stroke="#666" stroke-width="1.7" fill="none"/>
<g fill="#9c9c9c"><rect x="50.13" y="692.99" width="2.77" height="6.81"/><rect x="55.17" y="696.66" width="2.77" height="3.14"/><rect x="60.20" y="694.04" width="2.77" height="5.76"/><rect x="65.24" y="672.03" width="2.77" height="27.77"/><rect x="70.28" y="685.91" width="2.77" height="13.89"/><rect x="75.31" y="693.51" width="2.77" height="6.29"/><rect x="80.35" y="698.75" width="2.77" height="1.05"/><rect x="85.38" y="694.30" width="2.77" height="5.50"/><rect x="90.42" y="687.49" width="2.77" height="12.31"/><rect x="95.45" y="683.56" width="2.77" height="16.24"/><rect x="100.49" y="689.06" width="2.77" height="10.74"/><rect x="105.53" y="687.49" width="2.77" height="12.31"/><rect x="110.56" y="689.84" width="2.77" height="9.96"/><rect x="125.67" y="698.75" width="2.77" height="1.05"/><rect x="135.74" y="699.01" width="2.77" height="4.72"/><rect x="155.88" y="694.56" width="2.77" height="5.24"/><rect x="160.92" y="694.82" width="2.77" height="4.98"/><rect x="165.95" y="697.70" width="2.77" height="2.10"/><rect x="170.99" y="695.35" width="2.77" height="4.45"/><rect x="176.03" y="694.56" width="2.77" height="5.24"/><rect x="181.06" y="699.28" width="2.77" height="0.52"/><rect x="186.10" y="698.23" width="2.77" height="1.57"/><rect x="191.13" y="696.39" width="2.77" height="3.41"/><rect x="196.17" y="697.44" width="2.77" height="2.36"/><rect x="201.20" y="697.44" width="2.77" height="2.36"/><rect x="206.24" y="697.44" width="2.77" height="2.36"/><rect x="211.28" y="697.44" width="2.77" height="2.36"/><rect x="216.31" y="694.56" width="2.77" height="5.24"/><rect x="221.35" y="694.56" width="2.77" height="5.24"/><rect x="241.49" y="699.28" width="2.77" height="0.52"/><rect x="246.53" y="697.97" width="2.77" height="10.48"/><rect x="251.56" y="694.56" width="2.77" height="5.24"/><rect x="256.60" y="664.17" width="2.77" height="35.63"/><rect x="261.63" y="651.07" width="2.77" height="48.73"/><rect x="266.67" y="690.63" width="2.77" height="10.48"/><rect x="271.70" y="697.18" width="2.77" height="2.62"/><rect x="276.74" y="699.01" width="2.77" height="8.65"/><rect x="281.78" y="694.30" width="2.77" height="14.41"/><rect x="286.81" y="686.96" width="2.77" height="20.17"/><rect x="291.85" y="681.72" width="2.77" height="18.08"/><rect x="296.88" y="677.27" width="2.77" height="22.53"/><rect x="301.92" y="682.77" width="2.77" height="17.03"/><rect x="306.95" y="689.32" width="2.77" height="10.48"/><rect x="311.99" y="694.56" width="2.77" height="5.24"/><rect x="317.03" y="681.46" width="2.77" height="18.34"/><rect x="322.06" y="681.46" width="2.77" height="18.34"/><rect x="327.10" y="681.98" width="2.77" height="17.82"/><rect x="332.13" y="678.05" width="2.77" height="21.75"/><rect x="337.17" y="679.89" width="2.77" height="19.91"/><rect x="342.20" y="679.89" width="2.77" height="19.91"/><rect x="347.24" y="672.55" width="2.77" height="27.25"/><rect x="352.28" y="668.10" width="2.77" height="31.70"/><rect x="357.31" y="695.61" width="2.77" height="4.19"/><rect x="362.35" y="697.70" width="2.77" height="2.10"/><rect x="367.38" y="698.49" width="2.77" height="1.31"/><rect x="372.42" y="699.28" width="2.77" height="0.52"/><rect x="377.45" y="694.30" width="2.77" height="5.50"/><rect x="382.49" y="687.49" width="2.77" height="12.31"/><rect x="387.53" y="684.60" width="2.77" height="15.20"/><rect x="392.56" y="697.70" width="2.77" height="2.10"/><rect x="397.60" y="693.25" width="2.77" height="6.55"/><rect x="402.63" y="690.89" width="2.77" height="8.91"/><rect x="417.74" y="699.01" width="2.77" height="0.79"/><rect x="422.78" y="694.04" width="2.77" height="5.76"/><rect x="427.81" y="690.89" width="2.77" height="8.91"/><rect x="432.85" y="698.75" width="2.77" height="1.05"/><rect x="437.88" y="697.18" width="2.77" height="2.62"/><rect x="442.92" y="694.04" width="2.77" height="5.76"/><rect x="447.95" y="687.75" width="2.77" height="12.05"/><rect x="452.99" y="686.96" width="2.77" height="12.84"/><rect x="458.03" y="697.44" width="2.77" height="2.36"/><rect x="463.06" y="697.44" width="2.77" height="2.36"/><rect x="483.20" y="698.49" width="2.77" height="1.31"/><rect x="513.42" y="696.13" width="2.77" height="3.67"/><rect x="518.45" y="681.72" width="2.77" height="18.08"/><rect x="523.49" y="689.32" width="2.77" height="10.48"/><rect x="528.53" y="691.15" width="2.77" height="8.65"/><rect x="533.56" y="682.51" width="2.77" height="17.29"/><rect x="538.60" y="692.20" width="2.77" height="7.60"/><rect x="543.63" y="698.49" width="2.77" height="1.31"/><rect x="548.67" y="699.01" width="2.77" height="0.79"/><rect x="553.70" y="697.70" width="2.77" height="2.10"/><rect x="558.74" y="694.04" width="2.77" height="5.76"/><rect x="563.78" y="689.32" width="2.77" height="10.48"/><rect x="583.92" y="697.18" width="2.77" height="8.38"/><rect x="588.95" y="686.96" width="2.77" height="12.84"/><rect x="609.10" y="698.75" width="2.77" height="1.05"/><rect x="614.13" y="698.75" width="2.77" height="1.05"/><rect x="629.24" y="698.49" width="2.77" height="1.31"/><rect x="634.28" y="695.87" width="2.77" height="3.93"/><rect x="654.42" y="675.96" width="2.77" height="23.84"/><rect x="659.45" y="685.91" width="2.77" height="13.89"/><rect x="664.49" y="675.70" width="2.77" height="24.10"/><rect x="669.53" y="679.89" width="2.77" height="19.91"/><rect x="674.56" y="697.70" width="2.77" height="2.10"/><rect x="679.60" y="698.49" width="2.77" height="1.31"/><rect x="689.67" y="698.49" width="2.77" height="1.31"/><rect x="704.78" y="697.70" width="2.77" height="2.10"/><rect x="714.85" y="687.75" width="2.77" height="12.05"/><rect x="719.88" y="668.88" width="2.77" height="30.92"/><rect x="724.92" y="685.91" width="2.77" height="13.89"/><rect x="729.95" y="685.91" width="2.77" height="13.89"/><rect x="734.99" y="678.05" width="2.77" height="21.75"/><rect x="740.03" y="674.12" width="2.77" height="25.68"/><rect x="745.06" y="681.72" width="2.77" height="18.08"/><rect x="750.10" y="670.98" width="2.77" height="28.82"/></g>
<path d="M51.52,692.99V699.80M56.55,696.66V699.80M61.59,694.04V699.80M66.62,672.03V699.80M71.66,685.91V699.80M76.70,693.51V699.80M81.73,698.75V699.80M86.77,694.30V699.80M91.80,687.49V699.80M96.84,683.56V699.80M101.88,689.06V699.80M106.91,687.49V699.80M111.95,689.84V699.80M127.05,698.75V699.80M137.12,699.01V703.73M157.27,694.56V699.80M162.30,694.82V699.80M167.34,697.70V699.80M172.38,695.35V699.80M177.41,694.56V699.80M182.45,699.28V699.80M187.48,698.23V699.80M192.52,696.39V699.80M197.55,697.44V699.80M202.59,697.44V699.80M207.62,697.44V699.80M212.66,697.44V699.80M217.70,694.56V699.80M222.73,694.56V699.80M242.88,699.28V699.80M247.91,697.97V708.45M252.95,694.56V699.80M257.98,664.17V699.80M263.02,651.07V699.80M268.05,690.63V701.11M273.09,697.18V699.80M278.12,699.01V707.66M283.16,694.30V708.71M288.20,686.96V707.14M293.23,681.72V699.80M298.27,677.27V699.80M303.30,682.77V699.80M308.34,689.32V699.80M313.38,694.56V699.80M318.41,681.46V699.80M323.45,681.46V699.80M328.48,681.98V699.80M333.52,678.05V699.80M338.55,679.89V699.80M343.59,679.89V699.80M348.62,672.55V699.80M353.66,668.10V699.80M358.70,695.61V699.80M363.73,697.70V699.80M368.77,698.49V699.80M373.80,699.28V699.80M378.84,694.30V699.80M383.88,687.49V699.80M388.91,684.60V699.80M393.95,697.70V699.80M398.98,693.25V699.80M404.02,690.89V699.80M419.12,699.01V699.80M424.16,694.04V699.80M429.20,690.89V699.80M434.23,698.75V699.80M439.27,697.18V699.80M444.30,694.04V699.80M449.34,687.75V699.80M454.38,686.96V699.80M459.41,697.44V699.80M464.45,697.44V699.80M484.59,698.49V699.80M514.80,696.13V699.80M519.84,681.72V699.80M524.88,689.32V699.80M529.91,691.15V699.80M534.95,682.51V699.80M539.98,692.20V699.80M545.02,698.49V699.80M550.05,699.01V699.80M555.09,697.70V699.80M560.12,694.04V699.80M565.16,689.32V699.80M585.30,697.18V705.56M590.34,686.96V699.80M610.48,698.75V699.80M615.52,698.75V699.80M630.62,698.49V699.80M635.66,695.87V699.80M655.80,675.96V699.80M660.84,685.91V699.80M665.88,675.70V699.80M670.91,679.89V699.80M675.95,697.70V699.80M680.98,698.49V699.80M691.05,698.49V699.80M706.16,697.70V699.80M716.23,687.75V699.80M721.27,668.88V699.80M726.30,685.91V699.80M731.34,685.91V699.80M736.38,678.05V699.80M741.41,674.12V699.80M746.45,681.72V699.80M751.48,670.98V699.80" stroke="#707070" stroke-width="0.7" fill="none"/>
<path d="M49.32,692.99H53.72M54.35,696.66H58.75M59.39,694.04H63.79M64.42,672.03H68.83M69.46,685.91H73.86M74.50,693.51H78.90M79.53,698.75H83.93M84.57,694.30H88.97M89.60,687.49H94.00M94.64,683.56H99.04M99.67,689.06H104.08M104.71,687.49H109.11M109.75,689.84H114.15M124.85,698.75H129.25M134.93,699.01H139.32M134.93,703.73H139.32M155.07,694.56H159.47M160.10,694.82H164.50M165.14,697.70H169.54M170.18,695.35H174.57M175.21,694.56H179.61M180.25,699.28H184.65M185.28,698.23H189.68M190.32,696.39H194.72M195.35,697.44H199.75M200.39,697.44H204.79M205.43,697.44H209.82M210.46,697.44H214.86M215.50,694.56H219.90M220.53,694.56H224.93M240.68,699.28H245.07M245.71,697.97H250.11M245.71,708.45H250.11M250.75,694.56H255.15M255.78,664.17H260.18M260.82,651.07H265.22M265.85,690.63H270.25M265.85,701.11H270.25M270.89,697.18H275.29M275.93,699.01H280.32M275.93,707.66H280.32M280.96,694.30H285.36M280.96,708.71H285.36M286.00,686.96H290.40M286.00,707.14H290.40M291.03,681.72H295.43M296.07,677.27H300.47M301.10,682.77H305.50M306.14,689.32H310.54M311.18,694.56H315.57M316.21,681.46H320.61M321.25,681.46H325.65M326.28,681.98H330.68M331.32,678.05H335.72M336.35,679.89H340.75M341.39,679.89H345.79M346.43,672.55H350.82M351.46,668.10H355.86M356.50,695.61H360.90M361.53,697.70H365.93M366.57,698.49H370.97M371.60,699.28H376.00M376.64,694.30H381.04M381.68,687.49H386.07M386.71,684.60H391.11M391.75,697.70H396.15M396.78,693.25H401.18M401.82,690.89H406.22M416.93,699.01H421.32M421.96,694.04H426.36M427.00,690.89H431.40M432.03,698.75H436.43M437.07,697.18H441.47M442.10,694.04H446.50M447.14,687.75H451.54M452.18,686.96H456.57M457.21,697.44H461.61M462.25,697.44H466.65M482.39,698.49H486.79M512.60,696.13H517.00M517.64,681.72H522.04M522.67,689.32H527.08M527.71,691.15H532.11M532.75,682.51H537.15M537.78,692.20H542.18M542.82,698.49H547.22M547.85,699.01H552.25M552.89,697.70H557.29M557.92,694.04H562.33M562.96,689.32H567.36M583.10,697.18H587.50M583.10,705.56H587.50M588.14,686.96H592.54M608.28,698.75H612.68M613.32,698.75H617.72M628.42,698.49H632.83M633.46,695.87H637.86M653.60,675.96H658.00M658.64,685.91H663.04M663.67,675.70H668.08M668.71,679.89H673.11M673.75,697.70H678.15M678.78,698.49H683.18M688.85,698.49H693.25M703.96,697.70H708.36M714.03,687.75H718.43M719.07,668.88H723.47M724.10,685.91H728.50M729.14,685.91H733.54M734.17,678.05H738.58M739.21,674.12H743.61M744.25,681.72H748.65M749.28,670.98H753.68" stroke="#444" stroke-width="1.1" fill="none"/>
<path d="M49.72,695.87L51.52,693.49L53.32,695.87L51.52,698.25ZM55.35,697.70L56.55,696.60L57.75,697.70L56.55,698.80ZM59.86,695.35L61.59,693.33L63.32,695.35L61.59,697.36ZM64.83,679.10L66.62,676.10L68.42,679.10L66.62,682.10ZM69.86,691.94L71.66,688.94L73.46,691.94L71.66,694.94ZM74.90,697.44L76.70,695.24L78.50,697.44L76.70,699.64ZM80.53,699.01L81.73,697.91L82.93,699.01L81.73,700.11ZM85.12,695.87L86.77,693.94L88.42,695.87L86.77,697.80ZM90.00,693.51L91.80,690.51L93.60,693.51L91.80,696.51ZM95.04,685.91L96.84,682.91L98.64,685.91L96.84,688.91ZM100.08,692.73L101.88,689.73L103.67,692.73L101.88,695.73ZM105.11,688.27L106.91,685.27L108.71,688.27L106.91,691.27ZM110.15,693.51L111.95,690.51L113.75,693.51L111.95,696.51ZM125.85,699.01L127.05,697.91L128.25,699.01L127.05,700.11ZM135.71,700.59L137.12,698.94L138.54,700.59L137.12,702.24ZM155.70,697.18L157.27,695.35L158.84,697.18L157.27,699.01ZM160.81,697.18L162.30,695.44L163.80,697.18L162.30,698.92ZM166.14,698.49L167.34,697.39L168.54,698.49L167.34,699.59ZM171.04,697.18L172.38,695.62L173.71,697.18L172.38,698.74ZM175.84,696.66L177.41,694.82L178.98,696.66L177.41,698.49ZM181.25,699.54L182.45,698.44L183.65,699.54L182.45,700.64ZM186.28,698.75L187.48,697.65L188.68,698.75L187.48,699.85ZM191.32,697.70L192.52,696.51L193.72,697.70L192.52,698.90ZM196.35,698.23L197.55,697.13L198.75,698.23L197.55,699.33ZM201.39,698.23L202.59,697.13L203.79,698.23L202.59,699.33ZM206.43,698.23L207.62,697.13L208.82,698.23L207.62,699.33ZM211.46,698.23L212.66,697.13L213.86,698.23L212.66,699.33ZM216.12,696.66L217.70,694.82L219.27,696.66L217.70,698.49ZM221.16,696.39L222.73,694.56L224.30,696.39L222.73,698.23ZM241.68,699.54L242.88,698.44L244.07,699.54L242.88,700.64ZM246.11,702.42L247.91,699.42L249.71,702.42L247.91,705.42ZM251.37,696.66L252.95,694.82L254.52,696.66L252.95,698.49ZM256.18,686.70L257.98,683.70L259.78,686.70L257.98,689.70ZM261.22,676.22L263.02,673.22L264.82,676.22L263.02,679.22ZM266.25,695.87L268.05,692.87L269.85,695.87L268.05,698.87ZM271.89,698.23L273.09,697.13L274.29,698.23L273.09,699.33ZM276.32,702.42L278.12,699.42L279.93,702.42L278.12,705.42ZM281.36,699.80L283.16,696.80L284.96,699.80L283.16,702.80ZM286.40,695.87L288.20,692.87L290.00,695.87L288.20,698.87ZM291.43,689.84L293.23,686.84L295.03,689.84L293.23,692.84ZM296.47,686.18L298.27,683.18L300.07,686.18L298.27,689.18ZM301.50,686.70L303.30,683.70L305.10,686.70L303.30,689.70ZM306.54,694.04L308.34,691.04L310.14,694.04L308.34,697.04ZM311.80,695.87L313.38,694.04L314.95,695.87L313.38,697.70ZM316.61,689.84L318.41,686.84L320.21,689.84L318.41,692.84ZM321.65,686.70L323.45,683.70L325.25,686.70L323.45,689.70ZM326.68,687.49L328.48,684.49L330.28,687.49L328.48,690.49ZM331.72,678.84L333.52,675.84L335.32,678.84L333.52,681.84ZM336.75,686.96L338.55,683.96L340.35,686.96L338.55,689.96ZM341.79,681.46L343.59,678.46L345.39,681.46L343.59,684.46ZM346.82,686.18L348.62,683.18L350.43,686.18L348.62,689.18ZM351.86,684.08L353.66,681.08L355.46,684.08L353.66,687.08ZM357.44,697.18L358.70,695.71L359.95,697.18L358.70,698.65ZM362.53,698.49L363.73,697.39L364.93,698.49L363.73,699.59ZM367.57,699.01L368.77,697.91L369.97,699.01L368.77,700.11ZM372.60,699.54L373.80,698.44L375.00,699.54L373.80,700.64ZM377.19,697.18L378.84,695.25L380.49,697.18L378.84,699.11ZM382.07,691.94L383.88,688.94L385.68,691.94L383.88,694.94ZM387.11,688.80L388.91,685.80L390.71,688.80L388.91,691.80ZM392.75,698.49L393.95,697.39L395.15,698.49L393.95,699.59ZM397.18,694.56L398.98,692.27L400.78,694.56L398.98,696.85ZM402.22,696.39L404.02,693.39L405.82,696.39L404.02,699.39ZM417.93,699.28L419.12,698.18L420.32,699.28L419.12,700.38ZM422.43,697.18L424.16,695.16L425.89,697.18L424.16,699.20ZM427.40,694.56L429.20,691.56L431.00,694.56L429.20,697.56ZM433.03,699.01L434.23,697.91L435.43,699.01L434.23,700.11ZM438.07,698.23L439.27,697.13L440.47,698.23L439.27,699.33ZM442.57,696.66L444.30,694.64L446.03,696.66L444.30,698.67ZM447.54,694.56L449.34,691.56L451.14,694.56L449.34,697.56ZM452.57,692.99L454.38,689.99L456.18,692.99L454.38,695.99ZM458.21,698.23L459.41,697.13L460.61,698.23L459.41,699.33ZM463.25,698.23L464.45,697.13L465.65,698.23L464.45,699.33ZM483.39,699.01L484.59,697.91L485.79,699.01L484.59,700.11ZM513.60,697.70L514.80,696.42L516.00,697.70L514.80,698.99ZM518.04,682.51L519.84,679.51L521.64,682.51L519.84,685.51ZM523.08,692.46L524.88,689.46L526.67,692.46L524.88,695.46ZM528.11,693.25L529.91,690.25L531.71,693.25L529.91,696.25ZM533.15,687.49L534.95,684.49L536.75,687.49L534.95,690.49ZM538.18,693.51L539.98,690.85L541.78,693.51L539.98,696.17ZM543.82,699.01L545.02,697.91L546.22,699.01L545.02,700.11ZM548.85,699.28L550.05,698.18L551.25,699.28L550.05,700.38ZM553.89,698.49L555.09,697.39L556.29,698.49L555.09,699.59ZM558.40,696.66L560.12,694.64L561.85,696.66L560.12,698.67ZM563.36,692.46L565.16,689.46L566.96,692.46L565.16,695.46ZM583.50,701.11L585.30,698.18L587.10,701.11L585.30,704.04ZM588.54,688.80L590.34,685.80L592.14,688.80L590.34,691.80ZM609.28,699.28L610.48,698.18L611.68,699.28L610.48,700.38ZM614.32,699.28L615.52,698.18L616.72,699.28L615.52,700.38ZM629.42,699.01L630.62,697.91L631.83,699.01L630.62,700.11ZM634.46,697.18L635.66,695.80L636.86,697.18L635.66,698.56ZM654.00,680.41L655.80,677.41L657.60,680.41L655.80,683.41ZM659.04,688.53L660.84,685.53L662.64,688.53L660.84,691.53ZM664.08,682.25L665.88,679.25L667.67,682.25L665.88,685.25ZM669.11,685.91L670.91,682.91L672.71,685.91L670.91,688.91ZM674.75,698.49L675.95,697.39L677.15,698.49L675.95,699.59ZM679.78,699.01L680.98,697.91L682.18,699.01L680.98,700.11ZM689.85,699.01L691.05,697.91L692.25,699.01L691.05,700.11ZM704.96,698.49L706.16,697.39L707.36,698.49L706.16,699.59ZM714.43,692.99L716.23,689.99L718.03,692.99L716.23,695.99ZM719.47,679.63L721.27,676.63L723.07,679.63L721.27,682.63ZM724.50,686.70L726.30,683.70L728.10,686.70L726.30,689.70ZM729.54,687.22L731.34,684.22L733.14,687.22L731.34,690.22ZM734.58,683.29L736.38,680.29L738.17,683.29L736.38,686.29ZM739.61,687.22L741.41,684.22L743.21,687.22L741.41,690.22ZM744.65,692.20L746.45,689.20L748.25,692.20L746.45,695.20ZM749.68,682.25L751.48,679.25L753.28,682.25L751.48,685.25Z" fill="#2e2e2e"/>
</g>
<rect x="8" y="8.2" width="759" height="749.8" fill="none" stroke="#262626" stroke-width="2"/>
<path d="M8,365H767" stroke="#555" stroke-width="1.8"/>
<text x="72" y="53.5" font-size="26" font-weight="bold" fill="#000">A</text>
<text x="72" y="393.8" font-size="26" font-weight="bold" fill="#000">B</text>
<text transform="translate(24,169) rotate(-90)" font-size="16" font-weight="bold" text-anchor="middle" fill="#111">SHAPE Reactivity</text>
<text transform="translate(24,571) rotate(-90)" font-size="16" font-weight="bold" text-anchor="middle" fill="#111">SHAPE Reactivity</text>
<text x="408" y="183.6" font-size="15" font-weight="bold" text-anchor="middle" textLength="151" lengthAdjust="spacingAndGlyphs" fill="#111">Nucleotide Position</text>
<text x="408" y="354.7" font-size="15" font-weight="bold" text-anchor="middle" textLength="151" lengthAdjust="spacingAndGlyphs" fill="#111">Nucleotide Position</text>
<text x="415" y="500.0" font-size="15" font-weight="bold" text-anchor="middle" textLength="151" lengthAdjust="spacingAndGlyphs" fill="#111">Nucleotide Position</text>
<text x="408" y="639.5" font-size="15" font-weight="bold" text-anchor="middle" textLength="151" lengthAdjust="spacingAndGlyphs" fill="#111">Nucleotide Position</text>
<text x="408" y="744.0" font-size="15" font-weight="bold" text-anchor="middle" textLength="151" lengthAdjust="spacingAndGlyphs" fill="#111">Nucleotide Position</text>
<g font-size="13.2" fill="#333">
<text x="51" y="182.5">18</text>
<text x="631.5" y="182.3">124</text>
<text x="48.5" y="352">125</text>
<text x="734" y="352">230</text>
<text x="306" y="638">231</text>
<text x="741" y="638">318</text>
<text x="47" y="741.5">318</text>
<text x="739.5" y="741.5">457</text>
</g>
</g>
</svg>
</body></html>
